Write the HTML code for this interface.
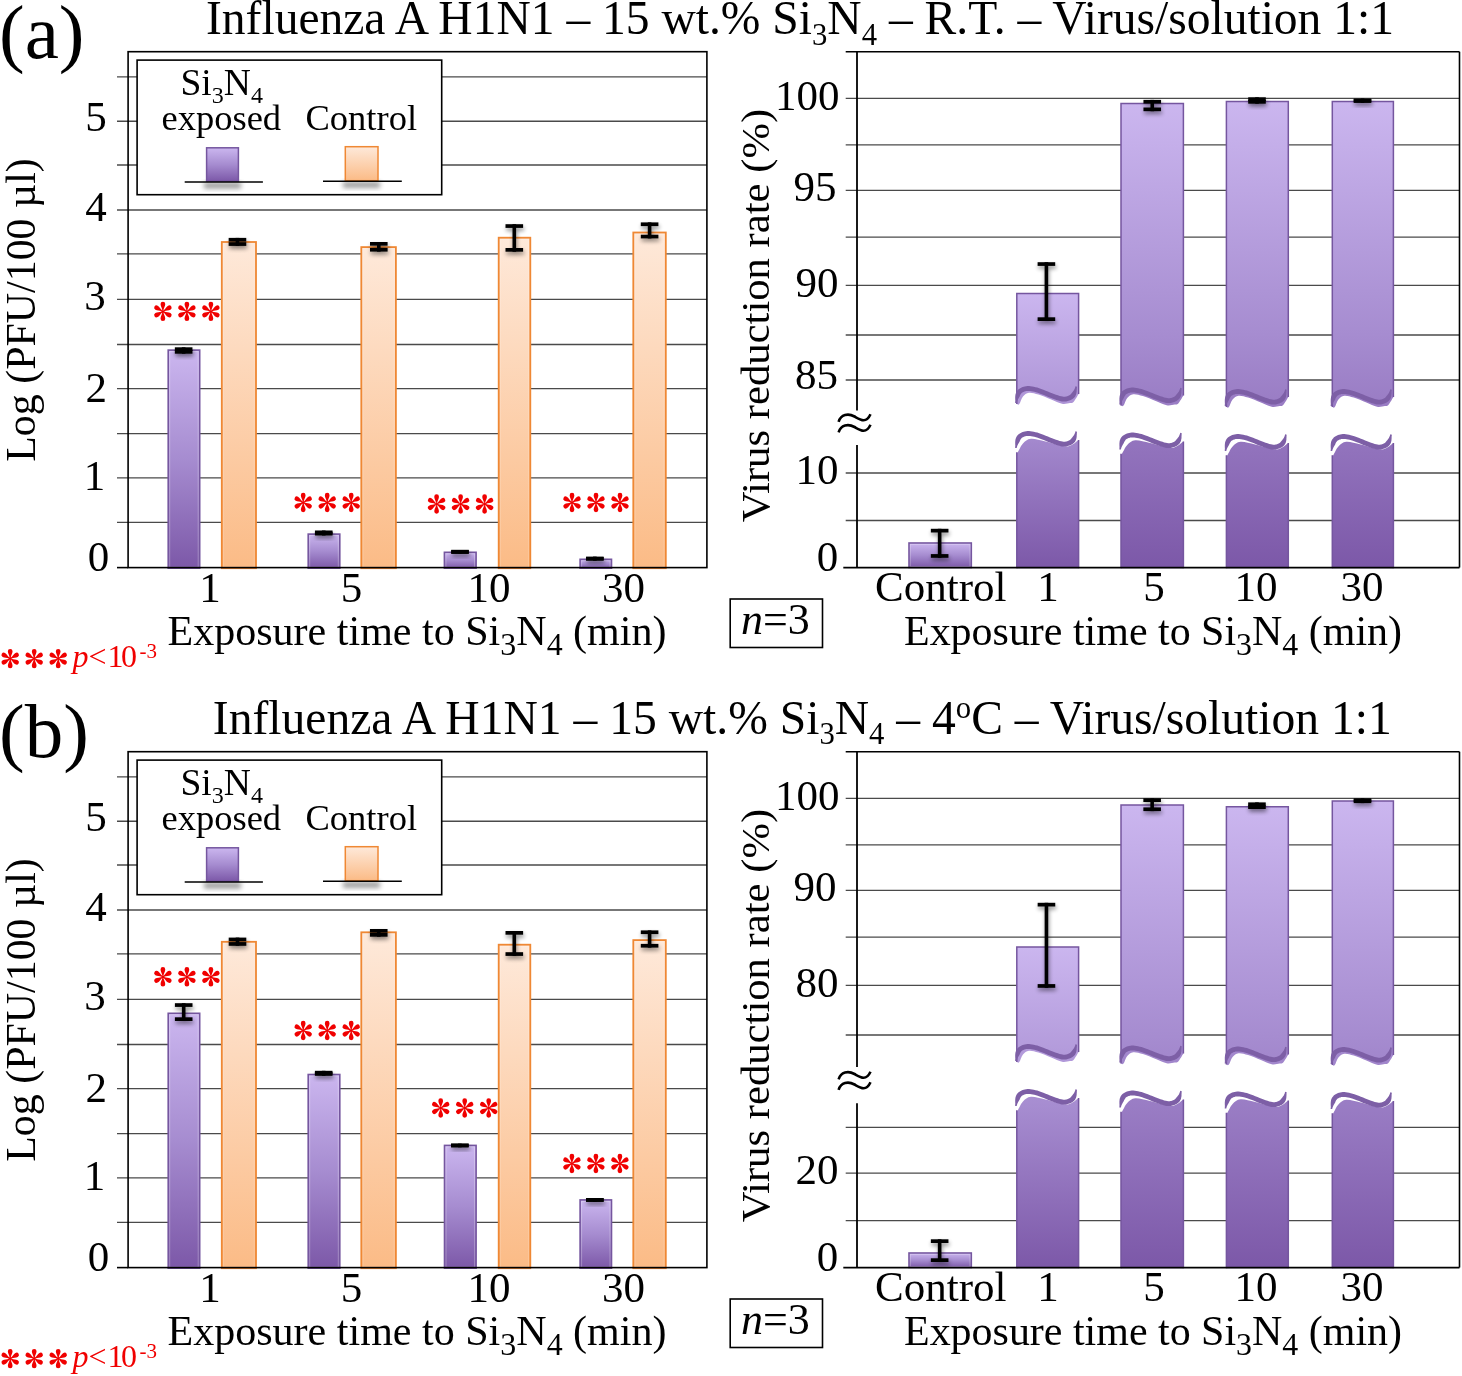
<!DOCTYPE html>
<html><head><meta charset="utf-8"><title>Figure</title>
<style>html,body{margin:0;padding:0;background:#fff;} svg{display:block;will-change:transform;} text{font-family:"Liberation Serif",serif;}</style>
</head><body>
<svg width="1462" height="1376" viewBox="0 0 1462 1376" font-family='"Liberation Serif", serif'>

<defs>
 <linearGradient id="gp" x1="0" y1="0" x2="0" y2="1">
  <stop offset="0" stop-color="#cbb6ef"/>
  <stop offset="0.5" stop-color="#a68cd0"/>
  <stop offset="1" stop-color="#7c58a8"/>
 </linearGradient>
 <linearGradient id="go" x1="0" y1="0" x2="0" y2="1">
  <stop offset="0" stop-color="#fee9da"/>
  <stop offset="1" stop-color="#fbbb86"/>
 </linearGradient>
 <g id="ast"><path d="M-0.55,-1.2 C-0.9,-3.4 -2.35,-5.2 -2.35,-7.35 A2.35,2.35 0 0 1 2.35,-7.35 C2.35,-5.2 0.9,-3.4 0.55,-1.2 Z" transform="rotate(0)"/><path d="M-0.55,-1.2 C-0.9,-3.4 -2.35,-5.2 -2.35,-7.35 A2.35,2.35 0 0 1 2.35,-7.35 C2.35,-5.2 0.9,-3.4 0.55,-1.2 Z" transform="rotate(60)"/><path d="M-0.55,-1.2 C-0.9,-3.4 -2.35,-5.2 -2.35,-7.35 A2.35,2.35 0 0 1 2.35,-7.35 C2.35,-5.2 0.9,-3.4 0.55,-1.2 Z" transform="rotate(120)"/><path d="M-0.55,-1.2 C-0.9,-3.4 -2.35,-5.2 -2.35,-7.35 A2.35,2.35 0 0 1 2.35,-7.35 C2.35,-5.2 0.9,-3.4 0.55,-1.2 Z" transform="rotate(180)"/><path d="M-0.55,-1.2 C-0.9,-3.4 -2.35,-5.2 -2.35,-7.35 A2.35,2.35 0 0 1 2.35,-7.35 C2.35,-5.2 0.9,-3.4 0.55,-1.2 Z" transform="rotate(240)"/><path d="M-0.55,-1.2 C-0.9,-3.4 -2.35,-5.2 -2.35,-7.35 A2.35,2.35 0 0 1 2.35,-7.35 C2.35,-5.2 0.9,-3.4 0.55,-1.2 Z" transform="rotate(300)"/><circle r="1.5"/></g>
 <filter id="esh" x="-50%" y="-50%" width="200%" height="200%"><feGaussianBlur stdDeviation="2.2"/></filter>
 <filter id="sh" x="-50%" y="-50%" width="200%" height="200%">
  <feGaussianBlur stdDeviation="2.5"/>
 </filter>
</defs>

<rect width="1462" height="1376" fill="#fff"/>
<text x="-1" y="58" font-size="77" text-anchor="start" fill="#000" >(a)</text>
<text x="206" y="34.2" font-size="48" textLength="1188" lengthAdjust="spacingAndGlyphs">Influenza A H1N1 – 15 wt.% Si<tspan font-size="31" dy="10.5">3</tspan><tspan dy="-10.5">N</tspan><tspan font-size="31" dy="10.5">4</tspan><tspan dy="-10.5"> – R.T. – Virus/solution 1:1</tspan></text>
<line x1="117" y1="76.9" x2="706.9" y2="76.9" stroke="#4a4a4a" stroke-width="1.3" />
<line x1="117" y1="121.25" x2="706.9" y2="121.25" stroke="#4a4a4a" stroke-width="1.3" />
<line x1="117" y1="165.0" x2="706.9" y2="165.0" stroke="#4a4a4a" stroke-width="1.3" />
<line x1="117" y1="210.0" x2="706.9" y2="210.0" stroke="#4a4a4a" stroke-width="1.3" />
<line x1="117" y1="253.9" x2="706.9" y2="253.9" stroke="#4a4a4a" stroke-width="1.3" />
<line x1="117" y1="299.4" x2="706.9" y2="299.4" stroke="#4a4a4a" stroke-width="1.3" />
<line x1="117" y1="344.5" x2="706.9" y2="344.5" stroke="#4a4a4a" stroke-width="1.3" />
<line x1="117" y1="388.7" x2="706.9" y2="388.7" stroke="#4a4a4a" stroke-width="1.3" />
<line x1="117" y1="433.7" x2="706.9" y2="433.7" stroke="#4a4a4a" stroke-width="1.3" />
<line x1="117" y1="477.8" x2="706.9" y2="477.8" stroke="#4a4a4a" stroke-width="1.3" />
<line x1="117" y1="522.4" x2="706.9" y2="522.4" stroke="#4a4a4a" stroke-width="1.3" />
<rect x="168.20" y="350.10" width="31.50" height="218.10" fill="url(#gp)" stroke="#75569f" stroke-width="1.6"/>
<rect x="169.70" y="351.60" width="28.50" height="215.70" fill="none" stroke="#fff" stroke-opacity="0.28" stroke-width="1"/>
<rect x="221.80" y="242.00" width="34.20" height="326.20" fill="url(#go)" stroke="#ef8834" stroke-width="1.8"/>
<rect x="223.60" y="243.80" width="30.60" height="323.50" fill="none" stroke="#fff" stroke-opacity="0.15" stroke-width="1"/>
<rect x="308.20" y="534.10" width="31.60" height="34.10" fill="url(#gp)" stroke="#75569f" stroke-width="1.6"/>
<rect x="309.70" y="535.60" width="28.60" height="31.70" fill="none" stroke="#fff" stroke-opacity="0.28" stroke-width="1"/>
<rect x="361.30" y="247.10" width="34.60" height="321.10" fill="url(#go)" stroke="#ef8834" stroke-width="1.8"/>
<rect x="363.10" y="248.90" width="31.00" height="318.40" fill="none" stroke="#fff" stroke-opacity="0.15" stroke-width="1"/>
<rect x="444.40" y="552.30" width="31.70" height="15.90" fill="url(#gp)" stroke="#75569f" stroke-width="1.6"/>
<rect x="445.90" y="553.80" width="28.70" height="13.50" fill="none" stroke="#fff" stroke-opacity="0.28" stroke-width="1"/>
<rect x="498.70" y="237.70" width="31.60" height="330.50" fill="url(#go)" stroke="#ef8834" stroke-width="1.8"/>
<rect x="500.50" y="239.50" width="28.00" height="327.80" fill="none" stroke="#fff" stroke-opacity="0.15" stroke-width="1"/>
<rect x="580.10" y="559.30" width="31.40" height="8.90" fill="url(#gp)" stroke="#75569f" stroke-width="1.6"/>
<rect x="581.60" y="560.80" width="28.40" height="6.50" fill="none" stroke="#fff" stroke-opacity="0.28" stroke-width="1"/>
<rect x="633.30" y="232.50" width="32.50" height="335.70" fill="url(#go)" stroke="#ef8834" stroke-width="1.8"/>
<rect x="635.10" y="234.30" width="28.90" height="333.00" fill="none" stroke="#fff" stroke-opacity="0.15" stroke-width="1"/>
<g fill="#000" opacity="0.45" filter="url(#esh)" transform="translate(0.8,2.8)"><rect x="181.85" y="347.30" width="3.6" height="6.40"/><rect x="174.85" y="347.30" width="17.6" height="3.7"/><rect x="174.85" y="350.00" width="17.6" height="3.7"/></g>
<g fill="#000"><rect x="181.85" y="347.30" width="3.6" height="6.40"/><rect x="174.85" y="347.30" width="17.6" height="3.7"/><rect x="174.85" y="350.00" width="17.6" height="3.7"/></g>
<g fill="#000" opacity="0.45" filter="url(#esh)" transform="translate(0.8,2.8)"><rect x="235.65" y="237.90" width="3.6" height="8.00"/><rect x="228.65" y="237.90" width="17.6" height="3.7"/><rect x="228.65" y="242.20" width="17.6" height="3.7"/></g>
<g fill="#000"><rect x="235.65" y="237.90" width="3.6" height="8.00"/><rect x="228.65" y="237.90" width="17.6" height="3.7"/><rect x="228.65" y="242.20" width="17.6" height="3.7"/></g>
<g fill="#f00000"><use href="#ast" x="162.90" y="311.40"/><use href="#ast" x="186.90" y="311.40"/><use href="#ast" x="210.90" y="311.40"/></g>
<g fill="#000" opacity="0.45" filter="url(#esh)" transform="translate(0.8,2.8)"><rect x="321.95" y="530.50" width="3.6" height="5.00"/><rect x="314.95" y="530.50" width="17.6" height="3.7"/><rect x="314.95" y="531.80" width="17.6" height="3.7"/></g>
<g fill="#000"><rect x="321.95" y="530.50" width="3.6" height="5.00"/><rect x="314.95" y="530.50" width="17.6" height="3.7"/><rect x="314.95" y="531.80" width="17.6" height="3.7"/></g>
<g fill="#000" opacity="0.45" filter="url(#esh)" transform="translate(0.8,2.8)"><rect x="377.00" y="242.00" width="3.6" height="9.60"/><rect x="370.00" y="242.00" width="17.6" height="3.7"/><rect x="370.00" y="247.90" width="17.6" height="3.7"/></g>
<g fill="#000"><rect x="377.00" y="242.00" width="3.6" height="9.60"/><rect x="370.00" y="242.00" width="17.6" height="3.7"/><rect x="370.00" y="247.90" width="17.6" height="3.7"/></g>
<g fill="#f00000"><use href="#ast" x="303.20" y="502.50"/><use href="#ast" x="327.20" y="502.50"/><use href="#ast" x="351.20" y="502.50"/></g>
<g fill="#000" opacity="0.45" filter="url(#esh)" transform="translate(0.8,2.8)"><rect x="458.20" y="550.20" width="3.6" height="3.30"/><rect x="451.20" y="550.20" width="17.6" height="3.7"/><rect x="451.20" y="549.80" width="17.6" height="3.7"/></g>
<g fill="#000"><rect x="458.20" y="550.20" width="3.6" height="3.30"/><rect x="451.20" y="550.20" width="17.6" height="3.7"/><rect x="451.20" y="549.80" width="17.6" height="3.7"/></g>
<g fill="#000" opacity="0.45" filter="url(#esh)" transform="translate(0.8,2.8)"><rect x="512.50" y="224.20" width="3.6" height="27.50"/><rect x="505.50" y="224.20" width="17.6" height="3.7"/><rect x="505.50" y="248.00" width="17.6" height="3.7"/></g>
<g fill="#000"><rect x="512.50" y="224.20" width="3.6" height="27.50"/><rect x="505.50" y="224.20" width="17.6" height="3.7"/><rect x="505.50" y="248.00" width="17.6" height="3.7"/></g>
<g fill="#f00000"><use href="#ast" x="436.60" y="504.00"/><use href="#ast" x="460.60" y="504.00"/><use href="#ast" x="484.60" y="504.00"/></g>
<g fill="#000" opacity="0.45" filter="url(#esh)" transform="translate(0.8,2.8)"><rect x="593.05" y="556.60" width="3.6" height="4.10"/><rect x="586.05" y="556.60" width="17.6" height="3.7"/><rect x="586.05" y="557.00" width="17.6" height="3.7"/></g>
<g fill="#000"><rect x="593.05" y="556.60" width="3.6" height="4.10"/><rect x="586.05" y="556.60" width="17.6" height="3.7"/><rect x="586.05" y="557.00" width="17.6" height="3.7"/></g>
<g fill="#000" opacity="0.45" filter="url(#esh)" transform="translate(0.8,2.8)"><rect x="647.80" y="222.40" width="3.6" height="16.00"/><rect x="640.80" y="222.40" width="17.6" height="3.7"/><rect x="640.80" y="234.70" width="17.6" height="3.7"/></g>
<g fill="#000"><rect x="647.80" y="222.40" width="3.6" height="16.00"/><rect x="640.80" y="222.40" width="17.6" height="3.7"/><rect x="640.80" y="234.70" width="17.6" height="3.7"/></g>
<g fill="#f00000"><use href="#ast" x="572.00" y="502.50"/><use href="#ast" x="596.00" y="502.50"/><use href="#ast" x="620.00" y="502.50"/></g>
<rect x="128.1" y="51.7" width="578.8" height="515.9" fill="none" stroke="#000" stroke-width="1.6"/>
<line x1="117" y1="567.6" x2="128.1" y2="567.6" stroke="#000" stroke-width="1.6" />
<rect x="137.1" y="60.1" width="304.59999999999997" height="134.6" fill="#fff" stroke="#000" stroke-width="1.6"/>
<text x="180.5" y="94.9" font-size="37.5">Si<tspan font-size="24.0" dy="8.2">3</tspan><tspan dy="-8.2">N</tspan><tspan font-size="24.0" dy="8.2">4</tspan></text>
<text x="161.5" y="129.9" font-size="36.5" text-anchor="start" fill="#000" >exposed</text>
<text x="305.5" y="129.9" font-size="36.5" text-anchor="start" fill="#000" >Control</text>
<rect x="204" y="182.5" width="37" height="6" fill="#000" opacity="0.4" filter="url(#sh)"/>
<rect x="343" y="181.8" width="37" height="6" fill="#000" opacity="0.4" filter="url(#sh)"/>
<rect x="206.6" y="147.8" width="31.8" height="33.4" fill="url(#gp)" stroke="#75569f" stroke-width="1.5"/>
<rect x="345.3" y="146.7" width="32.7" height="34" fill="url(#go)" stroke="#ef8834" stroke-width="1.5"/>
<line x1="184.7" y1="182" x2="262.9" y2="182" stroke="#000" stroke-width="1.6" />
<line x1="323" y1="181.3" x2="401.8" y2="181.3" stroke="#000" stroke-width="1.6" />
<text x="106.8" y="130.8" font-size="43" text-anchor="end" fill="#000" >5</text>
<text x="106.7" y="220.9" font-size="43" text-anchor="end" fill="#000" >4</text>
<text x="105.8" y="310.2" font-size="43" text-anchor="end" fill="#000" >3</text>
<text x="107.0" y="402" font-size="43" text-anchor="end" fill="#000" >2</text>
<text x="105.3" y="490" font-size="43" text-anchor="end" fill="#000" >1</text>
<text x="109.2" y="571.2" font-size="43" text-anchor="end" fill="#000" >0</text>
<text transform="translate(34.5,310) rotate(-90)" font-size="42" text-anchor="middle" textLength="303.5" lengthAdjust="spacingAndGlyphs">Log (PFU/100 µl)</text>
<text x="210" y="602.4" font-size="43" text-anchor="middle" fill="#000" >1</text>
<text x="351.6" y="602.4" font-size="43" text-anchor="middle" fill="#000" >5</text>
<text x="489" y="602.4" font-size="43" text-anchor="middle" fill="#000" >10</text>
<text x="623.6" y="602.4" font-size="43" text-anchor="middle" fill="#000" >30</text>
<text x="167.5" y="644.6" font-size="42" textLength="499" lengthAdjust="spacingAndGlyphs">Exposure time to Si<tspan font-size="31.9" dy="10.0">3</tspan><tspan dy="-10.0">N</tspan><tspan font-size="31.9" dy="10.0">4</tspan><tspan dy="-10.0"> (min)</tspan></text>
<line x1="845.7" y1="98.4" x2="1459.5" y2="98.4" stroke="#4a4a4a" stroke-width="1.3" />
<line x1="845.7" y1="144.8" x2="1459.5" y2="144.8" stroke="#4a4a4a" stroke-width="1.3" />
<line x1="845.7" y1="190.4" x2="1459.5" y2="190.4" stroke="#4a4a4a" stroke-width="1.3" />
<line x1="845.7" y1="237.2" x2="1459.5" y2="237.2" stroke="#4a4a4a" stroke-width="1.3" />
<line x1="845.7" y1="285.4" x2="1459.5" y2="285.4" stroke="#4a4a4a" stroke-width="1.3" />
<line x1="845.7" y1="335.0" x2="1459.5" y2="335.0" stroke="#4a4a4a" stroke-width="1.3" />
<line x1="845.7" y1="380.0" x2="1459.5" y2="380.0" stroke="#4a4a4a" stroke-width="1.3" />
<line x1="845.7" y1="473.0" x2="1459.5" y2="473.0" stroke="#4a4a4a" stroke-width="1.3" />
<line x1="845.7" y1="520.5" x2="1459.5" y2="520.5" stroke="#4a4a4a" stroke-width="1.3" />
<rect x="909.00" y="543.00" width="62.30" height="24.50" fill="url(#gp)" stroke="#75569f" stroke-width="1.6"/>
<rect x="910.30" y="544.30" width="59.70" height="22.30" fill="none" stroke="#fff" stroke-opacity="0.28" stroke-width="1"/>
<linearGradient id="b1" gradientUnits="userSpaceOnUse" x1="0" y1="293.40000000000003" x2="0" y2="568"><stop offset="0" stop-color="#cbb6ef"/><stop offset="0.5" stop-color="#a68cd0"/><stop offset="1" stop-color="#7c58a8"/></linearGradient>
<path d="M1016.80,293.40 L1078.60,293.40 L1078.60,394.00 C1077.76,395.32 1074.97,400.40 1073.53,401.90 C1072.09,403.40 1071.86,402.68 1069.95,403.00 C1068.03,403.32 1065.16,404.38 1062.04,403.80 C1058.92,403.22 1055.16,401.05 1051.22,399.50 C1047.29,397.95 1042.15,395.63 1038.43,394.50 C1034.71,393.37 1031.49,392.37 1028.91,392.70 C1026.34,393.03 1024.59,394.60 1022.98,396.50 C1021.37,398.40 1020.30,402.83 1019.27,404.10 C1018.24,405.37 1017.21,404.10 1016.80,404.10 Z" fill="url(#b1)" stroke="none"/>
<path d="M1016.80,404.10 L1016.80,293.40 L1078.60,293.40 L1078.60,394.00" fill="none" stroke="#75569f" stroke-width="1.5"/>
<path d="M1016.7,403.1 1016.8,402.5 1017.0,401.7 1017.3,400.8 1017.8,399.8 1018.3,398.8 1018.8,398.0 1019.2,397.2 1019.7,396.4 1020.0,395.6 1020.4,394.9 1020.6,394.3 1020.9,393.9 1021.3,393.4 1021.6,393.1 1022.0,392.7 1022.4,392.5 1022.8,392.2 1023.5,391.9 1024.2,391.6 1025.0,391.4 1025.9,391.1 1026.8,391.0 1027.7,390.9 1028.8,390.9 1030.0,391.0 1031.3,391.2 1032.8,391.5 1034.3,391.8 1036.0,392.3 1037.7,392.8 1039.6,393.4 1041.6,394.2 1043.8,395.1 1046.1,396.1 1048.3,397.0 1050.4,397.8 1052.4,398.5 1054.4,399.2 1056.4,399.9 1058.2,400.5 1060.0,401.0 1061.6,401.4 1063.0,401.6 1064.2,401.6 1065.3,401.6 1066.2,401.4 1067.0,401.2 1067.7,401.0 1068.5,400.8 1069.4,400.5 1070.3,400.2 1071.1,399.8 1071.8,399.4 1072.5,399.0 1073.2,398.5 1073.8,398.0 1074.3,397.5 1074.8,396.9 1075.2,396.4 1075.5,395.8 1075.8,395.2 1076.1,394.5 1076.3,393.8 1076.5,393.0 1076.6,392.3 1076.7,391.5 1076.7,390.6 1076.8,389.7 1076.8,388.7 1076.9,387.9 1076.9,387.2 1077.0,386.7 1075.5,386.3 1075.3,386.8 1075.2,387.5 1074.9,388.3 1074.5,389.1 1074.1,389.9 1073.7,390.5 1073.3,391.0 1072.9,391.5 1072.6,392.0 1072.2,392.4 1071.9,392.8 1071.6,393.2 1071.3,393.6 1071.0,394.0 1070.7,394.3 1070.5,394.5 1070.2,394.8 1069.9,395.0 1069.4,395.3 1068.9,395.5 1068.4,395.8 1067.8,396.0 1067.2,396.2 1066.5,396.4 1065.8,396.5 1065.2,396.7 1064.7,396.8 1064.2,396.8 1063.5,396.8 1062.5,396.6 1061.2,396.3 1059.6,395.9 1057.9,395.3 1056.0,394.7 1054.0,394.0 1052.1,393.2 1050.0,392.5 1047.9,391.6 1045.7,390.7 1043.4,389.8 1041.2,388.9 1039.2,388.2 1037.3,387.6 1035.5,387.2 1033.8,386.8 1032.1,386.5 1030.5,386.2 1029.0,386.1 1027.5,386.1 1026.1,386.2 1024.8,386.5 1023.7,386.8 1022.6,387.1 1021.6,387.5 1020.7,387.9 1019.8,388.4 1019.0,389.0 1018.3,389.6 1017.6,390.3 1017.0,391.1 1016.4,392.1 1016.0,393.0 1015.6,394.0 1015.4,395.0 1015.3,396.0 1015.2,397.0 1015.2,398.1 1015.2,399.2 1015.3,400.4 1015.2,401.4 1015.2,402.3 1015.1,402.9Z" fill="#7d5fa6"/>
<path d="M1016.80,568.20 L1016.80,452.20 C1016.96,452.20 1016.76,453.65 1017.79,452.20 C1018.82,450.75 1020.80,445.73 1022.98,443.50 C1025.16,441.27 1027.13,439.13 1030.89,438.80 C1034.65,438.47 1039.85,440.25 1045.54,441.50 C1051.22,442.75 1060.52,445.80 1065.00,446.30 C1069.48,446.80 1070.15,445.53 1072.42,444.50 C1074.69,443.47 1077.57,440.83 1078.60,440.10 L1078.60,568.20 Z" fill="url(#b1)" stroke="none"/>
<path d="M1016.80,452.20 L1016.80,568.20 M1078.60,440.10 L1078.60,568.20" fill="none" stroke="#75569f" stroke-width="1.5"/>
<path d="M1016.7,448.1 1016.8,447.5 1017.0,446.7 1017.3,445.8 1017.8,444.8 1018.3,443.8 1018.8,443.0 1019.2,442.2 1019.7,441.4 1020.0,440.6 1020.4,439.9 1020.6,439.3 1020.9,438.9 1021.3,438.4 1021.6,438.1 1022.0,437.7 1022.4,437.5 1022.8,437.2 1023.5,436.9 1024.2,436.6 1025.0,436.4 1025.9,436.1 1026.8,436.0 1027.7,435.9 1028.8,435.9 1030.0,436.0 1031.3,436.2 1032.8,436.5 1034.3,436.8 1036.0,437.3 1037.7,437.8 1039.6,438.4 1041.6,439.2 1043.8,440.1 1046.1,441.1 1048.3,442.0 1050.4,442.8 1052.4,443.5 1054.4,444.2 1056.4,444.9 1058.2,445.5 1060.0,446.0 1061.6,446.4 1063.0,446.6 1064.2,446.6 1065.3,446.6 1066.2,446.4 1067.0,446.2 1067.7,446.0 1068.5,445.8 1069.4,445.5 1070.3,445.2 1071.1,444.8 1071.8,444.4 1072.5,444.0 1073.2,443.5 1073.8,443.0 1074.3,442.5 1074.8,441.9 1075.2,441.4 1075.5,440.8 1075.8,440.2 1076.1,439.5 1076.3,438.8 1076.5,438.0 1076.6,437.3 1076.7,436.5 1076.7,435.6 1076.8,434.7 1076.8,433.7 1076.9,432.9 1076.9,432.2 1077.0,431.7 1075.5,431.3 1075.3,431.8 1075.2,432.5 1074.9,433.3 1074.5,434.1 1074.1,434.9 1073.7,435.5 1073.3,436.0 1072.9,436.5 1072.6,437.0 1072.2,437.4 1071.9,437.8 1071.6,438.2 1071.3,438.6 1071.0,439.0 1070.7,439.3 1070.5,439.5 1070.2,439.8 1069.9,440.0 1069.4,440.3 1068.9,440.5 1068.4,440.8 1067.8,441.0 1067.2,441.2 1066.5,441.4 1065.8,441.5 1065.2,441.7 1064.7,441.8 1064.2,441.8 1063.5,441.8 1062.5,441.6 1061.2,441.3 1059.6,440.9 1057.9,440.3 1056.0,439.7 1054.0,439.0 1052.1,438.2 1050.0,437.5 1047.9,436.6 1045.7,435.7 1043.4,434.8 1041.2,433.9 1039.2,433.2 1037.3,432.6 1035.5,432.2 1033.8,431.8 1032.1,431.5 1030.5,431.2 1029.0,431.1 1027.5,431.1 1026.1,431.2 1024.8,431.5 1023.7,431.8 1022.6,432.1 1021.6,432.5 1020.7,432.9 1019.8,433.4 1019.0,434.0 1018.3,434.6 1017.6,435.3 1017.0,436.1 1016.4,437.1 1016.0,438.0 1015.6,439.0 1015.4,440.0 1015.3,441.0 1015.2,442.0 1015.2,443.1 1015.2,444.2 1015.3,445.4 1015.2,446.4 1015.2,447.3 1015.1,447.9Z" fill="#7d5fa6"/>
<linearGradient id="b2" gradientUnits="userSpaceOnUse" x1="0" y1="103.6" x2="0" y2="568"><stop offset="0" stop-color="#cbb6ef"/><stop offset="0.5" stop-color="#a68cd0"/><stop offset="1" stop-color="#7c58a8"/></linearGradient>
<path d="M1121.00,103.60 L1183.40,103.60 L1183.40,395.50 C1182.55,396.82 1179.74,401.90 1178.28,403.40 C1176.83,404.90 1176.60,404.18 1174.66,404.50 C1172.73,404.82 1169.83,405.88 1166.68,405.30 C1163.53,404.72 1159.73,402.55 1155.76,401.00 C1151.78,399.45 1146.59,397.13 1142.84,396.00 C1139.09,394.87 1135.83,393.87 1133.23,394.20 C1130.63,394.53 1128.86,396.10 1127.24,398.00 C1125.62,399.90 1124.54,404.33 1123.50,405.60 C1122.46,406.87 1121.42,405.60 1121.00,405.60 Z" fill="url(#b2)" stroke="none"/>
<path d="M1121.00,405.60 L1121.00,103.60 L1183.40,103.60 L1183.40,395.50" fill="none" stroke="#75569f" stroke-width="1.5"/>
<path d="M1120.9,404.6 1121.0,404.0 1121.2,403.2 1121.5,402.3 1122.0,401.3 1122.5,400.3 1122.9,399.5 1123.4,398.7 1123.8,397.9 1124.2,397.1 1124.6,396.5 1124.8,395.9 1125.2,395.4 1125.5,394.9 1125.8,394.6 1126.2,394.3 1126.6,394.0 1127.1,393.7 1127.7,393.4 1128.5,393.1 1129.3,392.9 1130.1,392.6 1131.1,392.5 1132.0,392.4 1133.1,392.4 1134.3,392.5 1135.7,392.7 1137.1,393.0 1138.7,393.3 1140.4,393.8 1142.1,394.3 1144.0,394.9 1146.1,395.7 1148.3,396.6 1150.6,397.6 1152.8,398.5 1154.9,399.3 1157.0,400.0 1159.0,400.7 1160.9,401.4 1162.8,402.0 1164.6,402.5 1166.2,402.9 1167.6,403.1 1168.9,403.1 1170.0,403.1 1170.9,402.9 1171.6,402.7 1172.4,402.5 1173.2,402.3 1174.1,402.0 1175.0,401.7 1175.8,401.3 1176.5,400.9 1177.2,400.5 1177.9,400.0 1178.5,399.5 1179.0,399.0 1179.5,398.4 1179.9,397.9 1180.2,397.3 1180.6,396.7 1180.9,396.0 1181.1,395.3 1181.2,394.5 1181.4,393.8 1181.5,393.0 1181.5,392.1 1181.5,391.2 1181.6,390.2 1181.6,389.4 1181.7,388.7 1181.8,388.2 1180.2,387.8 1180.1,388.3 1179.9,389.0 1179.6,389.8 1179.3,390.6 1178.9,391.4 1178.5,392.0 1178.1,392.5 1177.7,393.0 1177.3,393.5 1177.0,393.9 1176.6,394.3 1176.3,394.7 1176.0,395.1 1175.7,395.4 1175.5,395.7 1175.2,396.0 1174.9,396.2 1174.6,396.5 1174.2,396.8 1173.7,397.0 1173.1,397.3 1172.5,397.5 1171.9,397.7 1171.2,397.9 1170.5,398.0 1169.9,398.2 1169.4,398.3 1168.8,398.3 1168.1,398.3 1167.1,398.1 1165.8,397.8 1164.2,397.4 1162.5,396.8 1160.5,396.2 1158.6,395.5 1156.6,394.7 1154.6,394.0 1152.4,393.1 1150.1,392.2 1147.9,391.3 1145.6,390.4 1143.6,389.7 1141.7,389.1 1139.9,388.7 1138.1,388.3 1136.5,388.0 1134.9,387.7 1133.3,387.6 1131.8,387.6 1130.4,387.7 1129.1,388.0 1128.0,388.3 1126.9,388.6 1125.9,389.0 1124.9,389.4 1124.1,389.9 1123.2,390.5 1122.5,391.1 1121.8,391.8 1121.2,392.6 1120.6,393.5 1120.2,394.5 1119.8,395.5 1119.6,396.5 1119.5,397.5 1119.4,398.5 1119.4,399.6 1119.4,400.7 1119.5,401.9 1119.4,402.9 1119.4,403.8 1119.3,404.4Z" fill="#7d5fa6"/>
<path d="M1121.00,568.20 L1121.00,453.70 C1121.17,453.70 1120.96,455.15 1122.00,453.70 C1123.04,452.25 1125.04,447.23 1127.24,445.00 C1129.44,442.77 1131.43,440.63 1135.23,440.30 C1139.02,439.97 1144.28,441.75 1150.02,443.00 C1155.76,444.25 1165.15,447.30 1169.67,447.80 C1174.20,448.30 1174.87,447.03 1177.16,446.00 C1179.45,444.97 1182.36,442.33 1183.40,441.60 L1183.40,568.20 Z" fill="url(#b2)" stroke="none"/>
<path d="M1121.00,453.70 L1121.00,568.20 M1183.40,441.60 L1183.40,568.20" fill="none" stroke="#75569f" stroke-width="1.5"/>
<path d="M1120.9,449.6 1121.0,449.0 1121.2,448.2 1121.5,447.3 1122.0,446.3 1122.5,445.3 1122.9,444.5 1123.4,443.7 1123.8,442.9 1124.2,442.1 1124.6,441.5 1124.8,440.9 1125.2,440.4 1125.5,439.9 1125.8,439.6 1126.2,439.3 1126.6,439.0 1127.1,438.7 1127.7,438.4 1128.5,438.1 1129.3,437.9 1130.1,437.6 1131.1,437.5 1132.0,437.4 1133.1,437.4 1134.3,437.5 1135.7,437.7 1137.1,438.0 1138.7,438.3 1140.4,438.8 1142.1,439.3 1144.0,439.9 1146.1,440.7 1148.3,441.6 1150.6,442.6 1152.8,443.5 1154.9,444.3 1157.0,445.0 1159.0,445.7 1160.9,446.4 1162.8,447.0 1164.6,447.5 1166.2,447.9 1167.6,448.1 1168.9,448.1 1170.0,448.1 1170.9,447.9 1171.6,447.7 1172.4,447.5 1173.2,447.3 1174.1,447.0 1175.0,446.7 1175.8,446.3 1176.5,445.9 1177.2,445.5 1177.9,445.0 1178.5,444.5 1179.0,444.0 1179.5,443.4 1179.9,442.9 1180.2,442.3 1180.6,441.7 1180.9,441.0 1181.1,440.3 1181.2,439.5 1181.4,438.8 1181.5,438.0 1181.5,437.1 1181.5,436.2 1181.6,435.2 1181.6,434.4 1181.7,433.7 1181.8,433.2 1180.2,432.8 1180.1,433.3 1179.9,434.0 1179.6,434.8 1179.3,435.6 1178.9,436.4 1178.5,437.0 1178.1,437.5 1177.7,438.0 1177.3,438.5 1177.0,438.9 1176.6,439.3 1176.3,439.7 1176.0,440.1 1175.7,440.4 1175.5,440.7 1175.2,441.0 1174.9,441.2 1174.6,441.5 1174.2,441.8 1173.7,442.0 1173.1,442.3 1172.5,442.5 1171.9,442.7 1171.2,442.9 1170.5,443.0 1169.9,443.2 1169.4,443.3 1168.8,443.3 1168.1,443.3 1167.1,443.1 1165.8,442.8 1164.2,442.4 1162.5,441.8 1160.5,441.2 1158.6,440.5 1156.6,439.7 1154.6,439.0 1152.4,438.1 1150.1,437.2 1147.9,436.3 1145.6,435.4 1143.6,434.7 1141.7,434.1 1139.9,433.7 1138.1,433.3 1136.5,433.0 1134.9,432.7 1133.3,432.6 1131.8,432.6 1130.4,432.7 1129.1,433.0 1128.0,433.3 1126.9,433.6 1125.9,434.0 1124.9,434.4 1124.1,434.9 1123.2,435.5 1122.5,436.1 1121.8,436.8 1121.2,437.6 1120.6,438.5 1120.2,439.5 1119.8,440.5 1119.6,441.5 1119.5,442.5 1119.4,443.5 1119.4,444.6 1119.4,445.7 1119.5,446.9 1119.4,447.9 1119.4,448.8 1119.3,449.4Z" fill="#7d5fa6"/>
<linearGradient id="b3" gradientUnits="userSpaceOnUse" x1="0" y1="101.39999999999999" x2="0" y2="568"><stop offset="0" stop-color="#cbb6ef"/><stop offset="0.5" stop-color="#a68cd0"/><stop offset="1" stop-color="#7c58a8"/></linearGradient>
<path d="M1226.40,101.40 L1288.30,101.40 L1288.30,397.00 C1287.45,398.32 1284.67,403.40 1283.22,404.90 C1281.78,406.40 1281.55,405.68 1279.63,406.00 C1277.72,406.32 1274.84,407.38 1271.71,406.80 C1268.58,406.22 1264.82,404.05 1260.88,402.50 C1256.94,400.95 1251.79,398.63 1248.07,397.50 C1244.34,396.37 1241.11,395.37 1238.53,395.70 C1235.95,396.03 1234.20,397.60 1232.59,399.50 C1230.98,401.40 1229.91,405.83 1228.88,407.10 C1227.84,408.37 1226.81,407.10 1226.40,407.10 Z" fill="url(#b3)" stroke="none"/>
<path d="M1226.40,407.10 L1226.40,101.40 L1288.30,101.40 L1288.30,397.00" fill="none" stroke="#75569f" stroke-width="1.5"/>
<path d="M1226.3,406.1 1226.4,405.5 1226.6,404.7 1226.9,403.8 1227.4,402.8 1227.9,401.8 1228.4,401.0 1228.8,400.2 1229.2,399.4 1229.6,398.6 1230.0,397.9 1230.2,397.4 1230.5,396.9 1230.9,396.4 1231.2,396.1 1231.6,395.7 1232.0,395.5 1232.5,395.2 1233.1,394.9 1233.8,394.6 1234.6,394.4 1235.5,394.1 1236.4,394.0 1237.4,393.9 1238.4,393.9 1239.6,394.0 1241.0,394.2 1242.4,394.5 1243.9,394.8 1245.6,395.3 1247.3,395.8 1249.2,396.4 1251.3,397.2 1253.5,398.1 1255.7,399.1 1257.9,400.0 1260.0,400.8 1262.1,401.5 1264.1,402.2 1266.0,402.9 1267.9,403.5 1269.6,404.0 1271.2,404.4 1272.6,404.6 1273.9,404.6 1275.0,404.6 1275.9,404.4 1276.6,404.2 1277.4,404.0 1278.2,403.8 1279.1,403.5 1279.9,403.2 1280.7,402.8 1281.5,402.4 1282.2,402.0 1282.9,401.5 1283.5,401.0 1284.0,400.5 1284.4,399.9 1284.8,399.4 1285.2,398.8 1285.5,398.2 1285.8,397.5 1286.0,396.8 1286.2,396.0 1286.3,395.3 1286.4,394.5 1286.4,393.6 1286.5,392.7 1286.5,391.7 1286.5,390.9 1286.6,390.2 1286.7,389.7 1285.2,389.3 1285.0,389.8 1284.8,390.5 1284.6,391.3 1284.2,392.1 1283.8,392.9 1283.4,393.5 1283.0,394.0 1282.6,394.5 1282.3,395.0 1281.9,395.4 1281.6,395.8 1281.3,396.2 1280.9,396.6 1280.7,397.0 1280.4,397.3 1280.2,397.5 1279.9,397.8 1279.6,398.0 1279.1,398.3 1278.6,398.5 1278.1,398.8 1277.5,399.0 1276.9,399.2 1276.2,399.4 1275.5,399.5 1274.9,399.7 1274.4,399.8 1273.9,399.8 1273.2,399.8 1272.2,399.6 1270.9,399.3 1269.3,398.9 1267.5,398.3 1265.6,397.7 1263.7,397.0 1261.7,396.2 1259.7,395.5 1257.5,394.6 1255.3,393.7 1253.1,392.8 1250.9,391.9 1248.8,391.2 1246.9,390.6 1245.1,390.2 1243.4,389.8 1241.7,389.5 1240.2,389.2 1238.6,389.1 1237.2,389.1 1235.8,389.2 1234.5,389.5 1233.3,389.8 1232.2,390.1 1231.2,390.5 1230.3,390.9 1229.4,391.4 1228.6,392.0 1227.9,392.6 1227.2,393.3 1226.6,394.1 1226.0,395.0 1225.6,396.0 1225.2,397.0 1225.0,398.0 1224.9,399.0 1224.8,400.0 1224.8,401.1 1224.8,402.2 1224.9,403.4 1224.8,404.4 1224.8,405.3 1224.7,405.9Z" fill="#7d5fa6"/>
<path d="M1226.40,568.20 L1226.40,455.20 C1226.57,455.20 1226.36,456.65 1227.39,455.20 C1228.42,453.75 1230.40,448.73 1232.59,446.50 C1234.78,444.27 1236.75,442.13 1240.51,441.80 C1244.28,441.47 1249.49,443.25 1255.18,444.50 C1260.88,445.75 1270.19,448.80 1274.68,449.30 C1279.17,449.80 1279.84,448.53 1282.11,447.50 C1284.38,446.47 1287.27,443.83 1288.30,443.10 L1288.30,568.20 Z" fill="url(#b3)" stroke="none"/>
<path d="M1226.40,455.20 L1226.40,568.20 M1288.30,443.10 L1288.30,568.20" fill="none" stroke="#75569f" stroke-width="1.5"/>
<path d="M1226.3,451.1 1226.4,450.5 1226.6,449.7 1226.9,448.8 1227.4,447.8 1227.9,446.8 1228.4,446.0 1228.8,445.2 1229.2,444.4 1229.6,443.6 1230.0,442.9 1230.2,442.4 1230.5,441.9 1230.9,441.4 1231.2,441.1 1231.6,440.7 1232.0,440.5 1232.5,440.2 1233.1,439.9 1233.8,439.6 1234.6,439.4 1235.5,439.1 1236.4,439.0 1237.4,438.9 1238.4,438.9 1239.6,439.0 1241.0,439.2 1242.4,439.5 1243.9,439.8 1245.6,440.3 1247.3,440.8 1249.2,441.4 1251.3,442.2 1253.5,443.1 1255.7,444.1 1257.9,445.0 1260.0,445.8 1262.1,446.5 1264.1,447.2 1266.0,447.9 1267.9,448.5 1269.6,449.0 1271.2,449.4 1272.6,449.6 1273.9,449.6 1275.0,449.6 1275.9,449.4 1276.6,449.2 1277.4,449.0 1278.2,448.8 1279.1,448.5 1279.9,448.2 1280.7,447.8 1281.5,447.4 1282.2,447.0 1282.9,446.5 1283.5,446.0 1284.0,445.5 1284.4,444.9 1284.8,444.4 1285.2,443.8 1285.5,443.2 1285.8,442.5 1286.0,441.8 1286.2,441.0 1286.3,440.3 1286.4,439.5 1286.4,438.6 1286.5,437.7 1286.5,436.7 1286.5,435.9 1286.6,435.2 1286.7,434.7 1285.2,434.3 1285.0,434.8 1284.8,435.5 1284.6,436.3 1284.2,437.1 1283.8,437.9 1283.4,438.5 1283.0,439.0 1282.6,439.5 1282.3,440.0 1281.9,440.4 1281.6,440.8 1281.3,441.2 1280.9,441.6 1280.7,442.0 1280.4,442.3 1280.2,442.5 1279.9,442.8 1279.6,443.0 1279.1,443.3 1278.6,443.5 1278.1,443.8 1277.5,444.0 1276.9,444.2 1276.2,444.4 1275.5,444.5 1274.9,444.7 1274.4,444.8 1273.9,444.8 1273.2,444.8 1272.2,444.6 1270.9,444.3 1269.3,443.9 1267.5,443.3 1265.6,442.7 1263.7,442.0 1261.7,441.2 1259.7,440.5 1257.5,439.6 1255.3,438.7 1253.1,437.8 1250.9,436.9 1248.8,436.2 1246.9,435.6 1245.1,435.2 1243.4,434.8 1241.7,434.5 1240.2,434.2 1238.6,434.1 1237.2,434.1 1235.8,434.2 1234.5,434.5 1233.3,434.8 1232.2,435.1 1231.2,435.5 1230.3,435.9 1229.4,436.4 1228.6,437.0 1227.9,437.6 1227.2,438.3 1226.6,439.1 1226.0,440.0 1225.6,441.0 1225.2,442.0 1225.0,443.0 1224.9,444.0 1224.8,445.0 1224.8,446.1 1224.8,447.2 1224.9,448.4 1224.8,449.4 1224.8,450.3 1224.7,450.9Z" fill="#7d5fa6"/>
<linearGradient id="b4" gradientUnits="userSpaceOnUse" x1="0" y1="101.39999999999999" x2="0" y2="568"><stop offset="0" stop-color="#cbb6ef"/><stop offset="0.5" stop-color="#a68cd0"/><stop offset="1" stop-color="#7c58a8"/></linearGradient>
<path d="M1332.30,101.40 L1393.40,101.40 L1393.40,397.00 C1392.56,398.32 1389.82,403.40 1388.39,404.90 C1386.96,406.40 1386.74,405.68 1384.85,406.00 C1382.95,406.32 1380.11,407.38 1377.03,406.80 C1373.94,406.22 1370.22,404.05 1366.33,402.50 C1362.44,400.95 1357.36,398.63 1353.69,397.50 C1350.01,396.37 1346.82,395.37 1344.28,395.70 C1341.73,396.03 1340.00,397.60 1338.41,399.50 C1336.82,401.40 1335.76,405.83 1334.74,407.10 C1333.73,408.37 1332.71,407.10 1332.30,407.10 Z" fill="url(#b4)" stroke="none"/>
<path d="M1332.30,407.10 L1332.30,101.40 L1393.40,101.40 L1393.40,397.00" fill="none" stroke="#75569f" stroke-width="1.5"/>
<path d="M1332.2,406.1 1332.3,405.5 1332.5,404.7 1332.9,403.8 1333.3,402.8 1333.8,401.8 1334.3,401.0 1334.7,400.2 1335.2,399.4 1335.5,398.6 1335.8,397.9 1336.1,397.3 1336.4,396.9 1336.8,396.4 1337.1,396.0 1337.4,395.7 1337.8,395.5 1338.3,395.2 1338.9,394.9 1339.6,394.6 1340.4,394.4 1341.3,394.1 1342.2,394.0 1343.1,393.9 1344.2,393.9 1345.4,394.0 1346.7,394.2 1348.1,394.5 1349.6,394.8 1351.2,395.3 1352.9,395.8 1354.8,396.4 1356.8,397.2 1359.0,398.1 1361.2,399.1 1363.4,399.9 1365.5,400.7 1367.5,401.5 1369.5,402.2 1371.4,402.9 1373.2,403.5 1375.0,404.0 1376.5,404.4 1377.9,404.6 1379.2,404.6 1380.2,404.6 1381.2,404.4 1381.9,404.2 1382.6,404.0 1383.5,403.8 1384.3,403.5 1385.2,403.2 1386.0,402.8 1386.7,402.4 1387.4,402.0 1388.1,401.5 1388.7,401.0 1389.2,400.5 1389.6,399.9 1390.0,399.4 1390.4,398.8 1390.7,398.2 1391.0,397.5 1391.2,396.8 1391.3,396.0 1391.5,395.3 1391.5,394.5 1391.6,393.6 1391.6,392.7 1391.6,391.7 1391.7,390.9 1391.8,390.2 1391.9,389.7 1390.3,389.3 1390.2,389.8 1390.0,390.5 1389.7,391.3 1389.3,392.1 1388.9,392.9 1388.5,393.5 1388.2,394.0 1387.8,394.5 1387.4,395.0 1387.1,395.4 1386.7,395.8 1386.4,396.2 1386.1,396.6 1385.8,397.0 1385.6,397.3 1385.3,397.5 1385.1,397.8 1384.7,398.0 1384.3,398.3 1383.8,398.5 1383.3,398.8 1382.7,399.0 1382.1,399.2 1381.4,399.4 1380.7,399.5 1380.1,399.7 1379.6,399.8 1379.1,399.8 1378.5,399.8 1377.5,399.6 1376.2,399.3 1374.7,398.9 1372.9,398.3 1371.1,397.7 1369.1,397.0 1367.2,396.3 1365.2,395.5 1363.1,394.6 1360.9,393.7 1358.6,392.8 1356.5,391.9 1354.4,391.2 1352.6,390.7 1350.8,390.2 1349.1,389.8 1347.5,389.5 1345.9,389.2 1344.4,389.1 1342.9,389.1 1341.5,389.2 1340.2,389.5 1339.1,389.8 1338.0,390.1 1337.1,390.5 1336.1,390.9 1335.2,391.4 1334.4,392.0 1333.7,392.6 1333.1,393.4 1332.5,394.1 1331.9,395.1 1331.4,396.0 1331.1,397.0 1330.9,398.0 1330.8,399.0 1330.7,400.0 1330.7,401.1 1330.7,402.2 1330.8,403.4 1330.8,404.4 1330.7,405.3 1330.6,405.9Z" fill="#7d5fa6"/>
<path d="M1332.30,568.20 L1332.30,455.20 C1332.46,455.20 1332.26,456.65 1333.28,455.20 C1334.30,453.75 1336.25,448.73 1338.41,446.50 C1340.57,444.27 1342.51,442.13 1346.23,441.80 C1349.95,441.47 1355.09,443.25 1360.71,444.50 C1366.33,445.75 1375.53,448.80 1379.96,449.30 C1384.39,449.80 1385.05,448.53 1387.29,447.50 C1389.53,446.47 1392.38,443.83 1393.40,443.10 L1393.40,568.20 Z" fill="url(#b4)" stroke="none"/>
<path d="M1332.30,455.20 L1332.30,568.20 M1393.40,443.10 L1393.40,568.20" fill="none" stroke="#75569f" stroke-width="1.5"/>
<path d="M1332.2,451.1 1332.3,450.5 1332.5,449.7 1332.9,448.8 1333.3,447.8 1333.8,446.8 1334.3,446.0 1334.7,445.2 1335.2,444.4 1335.5,443.6 1335.8,442.9 1336.1,442.3 1336.4,441.9 1336.8,441.4 1337.1,441.0 1337.4,440.7 1337.8,440.5 1338.3,440.2 1338.9,439.9 1339.6,439.6 1340.4,439.4 1341.3,439.1 1342.2,439.0 1343.1,438.9 1344.2,438.9 1345.4,439.0 1346.7,439.2 1348.1,439.5 1349.6,439.8 1351.2,440.3 1352.9,440.8 1354.8,441.4 1356.8,442.2 1359.0,443.1 1361.2,444.1 1363.4,444.9 1365.5,445.7 1367.5,446.5 1369.5,447.2 1371.4,447.9 1373.2,448.5 1375.0,449.0 1376.5,449.4 1377.9,449.6 1379.2,449.6 1380.2,449.6 1381.2,449.4 1381.9,449.2 1382.6,449.0 1383.5,448.8 1384.3,448.5 1385.2,448.2 1386.0,447.8 1386.7,447.4 1387.4,447.0 1388.1,446.5 1388.7,446.0 1389.2,445.5 1389.6,444.9 1390.0,444.4 1390.4,443.8 1390.7,443.2 1391.0,442.5 1391.2,441.8 1391.3,441.0 1391.5,440.3 1391.5,439.5 1391.6,438.6 1391.6,437.7 1391.6,436.7 1391.7,435.9 1391.8,435.2 1391.9,434.7 1390.3,434.3 1390.2,434.8 1390.0,435.5 1389.7,436.3 1389.3,437.1 1388.9,437.9 1388.5,438.5 1388.2,439.0 1387.8,439.5 1387.4,440.0 1387.1,440.4 1386.7,440.8 1386.4,441.2 1386.1,441.6 1385.8,442.0 1385.6,442.3 1385.3,442.5 1385.1,442.8 1384.7,443.0 1384.3,443.3 1383.8,443.5 1383.3,443.8 1382.7,444.0 1382.1,444.2 1381.4,444.4 1380.7,444.5 1380.1,444.7 1379.6,444.8 1379.1,444.8 1378.5,444.8 1377.5,444.6 1376.2,444.3 1374.7,443.9 1372.9,443.3 1371.1,442.7 1369.1,442.0 1367.2,441.3 1365.2,440.5 1363.1,439.6 1360.9,438.7 1358.6,437.8 1356.5,436.9 1354.4,436.2 1352.6,435.7 1350.8,435.2 1349.1,434.8 1347.5,434.5 1345.9,434.2 1344.4,434.1 1342.9,434.1 1341.5,434.2 1340.2,434.5 1339.1,434.8 1338.0,435.1 1337.1,435.5 1336.1,435.9 1335.2,436.4 1334.4,437.0 1333.7,437.6 1333.1,438.4 1332.5,439.1 1331.9,440.1 1331.4,441.0 1331.1,442.0 1330.9,443.0 1330.8,444.0 1330.7,445.0 1330.7,446.1 1330.7,447.2 1330.8,448.4 1330.8,449.4 1330.7,450.3 1330.6,450.9Z" fill="#7d5fa6"/>
<g fill="#000" opacity="0.45" filter="url(#esh)" transform="translate(0.8,2.8)"><rect x="937.85" y="528.80" width="3.6" height="29.00"/><rect x="930.85" y="528.80" width="17.6" height="3.7"/><rect x="930.85" y="554.10" width="17.6" height="3.7"/></g>
<g fill="#000"><rect x="937.85" y="528.80" width="3.6" height="29.00"/><rect x="930.85" y="528.80" width="17.6" height="3.7"/><rect x="930.85" y="554.10" width="17.6" height="3.7"/></g>
<g fill="#000" opacity="0.45" filter="url(#esh)" transform="translate(0.8,2.8)"><rect x="1044.60" y="262.20" width="3.6" height="58.80"/><rect x="1037.60" y="262.20" width="17.6" height="3.7"/><rect x="1037.60" y="317.30" width="17.6" height="3.7"/></g>
<g fill="#000"><rect x="1044.60" y="262.20" width="3.6" height="58.80"/><rect x="1037.60" y="262.20" width="17.6" height="3.7"/><rect x="1037.60" y="317.30" width="17.6" height="3.7"/></g>
<g fill="#000" opacity="0.45" filter="url(#esh)" transform="translate(0.8,2.8)"><rect x="1150.45" y="99.90" width="3.6" height="11.30"/><rect x="1143.45" y="99.90" width="17.6" height="3.7"/><rect x="1143.45" y="107.50" width="17.6" height="3.7"/></g>
<g fill="#000"><rect x="1150.45" y="99.90" width="3.6" height="11.30"/><rect x="1143.45" y="99.90" width="17.6" height="3.7"/><rect x="1143.45" y="107.50" width="17.6" height="3.7"/></g>
<g fill="#000" opacity="0.45" filter="url(#esh)" transform="translate(0.8,2.8)"><rect x="1255.20" y="97.30" width="3.6" height="6.40"/><rect x="1248.20" y="97.30" width="17.6" height="3.7"/><rect x="1248.20" y="100.00" width="17.6" height="3.7"/></g>
<g fill="#000"><rect x="1255.20" y="97.30" width="3.6" height="6.40"/><rect x="1248.20" y="97.30" width="17.6" height="3.7"/><rect x="1248.20" y="100.00" width="17.6" height="3.7"/></g>
<g fill="#000" opacity="0.45" filter="url(#esh)" transform="translate(0.8,2.8)"><rect x="1360.70" y="98.50" width="3.6" height="4.40"/><rect x="1353.70" y="98.50" width="17.6" height="3.7"/><rect x="1353.70" y="99.20" width="17.6" height="3.7"/></g>
<g fill="#000"><rect x="1360.70" y="98.50" width="3.6" height="4.40"/><rect x="1353.70" y="98.50" width="17.6" height="3.7"/><rect x="1353.70" y="99.20" width="17.6" height="3.7"/></g>
<line x1="845.7" y1="51.7" x2="1459.5" y2="51.7" stroke="#000" stroke-width="1.6" />
<line x1="1459.5" y1="51.7" x2="1459.5" y2="567.6" stroke="#000" stroke-width="1.6" />
<line x1="843.3" y1="567.6" x2="1459.5" y2="567.6" stroke="#000" stroke-width="1.7" />
<line x1="857" y1="51.7" x2="857" y2="410.4" stroke="#000" stroke-width="1.8" />
<line x1="857" y1="445" x2="857" y2="567.6" stroke="#000" stroke-width="1.8" />
<path d="M838.6,421.8 C841,414.5 848,413 854.5,416.5 C860,419.5 866,424 870.5,414.2" fill="none" stroke="#000" stroke-width="2.6"/>
<path d="M838.6,432.3 C841,425.0 848,423.5 854.5,427.0 C860,430.0 866,434.5 870.5,424.7" fill="none" stroke="#000" stroke-width="2.6"/>
<text x="839.5" y="110.3" font-size="43" text-anchor="end" fill="#000" >100</text>
<text x="836.5" y="200.8" font-size="43" text-anchor="end" fill="#000" >95</text>
<text x="838.5" y="297.2" font-size="43" text-anchor="end" fill="#000" >90</text>
<text x="838" y="389.3" font-size="43" text-anchor="end" fill="#000" >85</text>
<text x="838.5" y="484.2" font-size="43" text-anchor="end" fill="#000" >10</text>
<text x="838.3" y="571.0" font-size="43" text-anchor="end" fill="#000" >0</text>
<text transform="translate(769,315.5) rotate(-90)" font-size="41" text-anchor="middle" textLength="413.5" lengthAdjust="spacingAndGlyphs">Virus reduction rate (%)</text>
<text x="940.8" y="600.6" font-size="43" text-anchor="middle" fill="#000" >Control</text>
<text x="1048" y="600.6" font-size="43" text-anchor="middle" fill="#000" >1</text>
<text x="1154" y="600.6" font-size="43" text-anchor="middle" fill="#000" >5</text>
<text x="1256" y="600.6" font-size="43" text-anchor="middle" fill="#000" >10</text>
<text x="1362" y="600.6" font-size="43" text-anchor="middle" fill="#000" >30</text>
<text x="904" y="645" font-size="42" textLength="498" lengthAdjust="spacingAndGlyphs">Exposure time to Si<tspan font-size="31.9" dy="10.0">3</tspan><tspan dy="-10.0">N</tspan><tspan font-size="31.9" dy="10.0">4</tspan><tspan dy="-10.0"> (min)</tspan></text>
<rect x="730.2" y="599" width="92.3" height="48.5" fill="#fff" stroke="#000" stroke-width="1.6"/>
<text x="741" y="633.9" font-size="44"><tspan font-style="italic">n</tspan>=3</text>
<g fill="#f00000"><use href="#ast" x="10.20" y="658.60"/><use href="#ast" x="34.20" y="658.60"/><use href="#ast" x="58.20" y="658.60"/></g>
<text y="667.2" font-size="32" fill="#f00000"><tspan x="72.5" font-style="italic">p</tspan><tspan x="88.5">&lt;</tspan><tspan x="107.5" letter-spacing="-2.5">10</tspan><tspan x="139.5" font-size="21" dy="-9.5">-3</tspan></text>
<text x="-1" y="756.6" font-size="77" text-anchor="start" fill="#000" >(b)</text>
<text x="212.8" y="733.7" font-size="48" textLength="1179" lengthAdjust="spacingAndGlyphs">Influenza A H1N1 – 15 wt.% Si<tspan font-size="31" dy="10.5">3</tspan><tspan dy="-10.5">N</tspan><tspan font-size="31" dy="10.5">4</tspan><tspan dy="-10.5"> – 4</tspan><tspan font-size="31" dy="-16">o</tspan><tspan dy="16">C – Virus/solution 1:1</tspan></text>
<line x1="117" y1="776.9" x2="706.9" y2="776.9" stroke="#4a4a4a" stroke-width="1.3" />
<line x1="117" y1="821.25" x2="706.9" y2="821.25" stroke="#4a4a4a" stroke-width="1.3" />
<line x1="117" y1="865.0" x2="706.9" y2="865.0" stroke="#4a4a4a" stroke-width="1.3" />
<line x1="117" y1="910.0" x2="706.9" y2="910.0" stroke="#4a4a4a" stroke-width="1.3" />
<line x1="117" y1="953.9" x2="706.9" y2="953.9" stroke="#4a4a4a" stroke-width="1.3" />
<line x1="117" y1="999.4" x2="706.9" y2="999.4" stroke="#4a4a4a" stroke-width="1.3" />
<line x1="117" y1="1044.5" x2="706.9" y2="1044.5" stroke="#4a4a4a" stroke-width="1.3" />
<line x1="117" y1="1088.7" x2="706.9" y2="1088.7" stroke="#4a4a4a" stroke-width="1.3" />
<line x1="117" y1="1133.7" x2="706.9" y2="1133.7" stroke="#4a4a4a" stroke-width="1.3" />
<line x1="117" y1="1177.8" x2="706.9" y2="1177.8" stroke="#4a4a4a" stroke-width="1.3" />
<line x1="117" y1="1222.4" x2="706.9" y2="1222.4" stroke="#4a4a4a" stroke-width="1.3" />
<rect x="168.20" y="1013.30" width="31.50" height="254.90" fill="url(#gp)" stroke="#75569f" stroke-width="1.6"/>
<rect x="169.70" y="1014.80" width="28.50" height="252.50" fill="none" stroke="#fff" stroke-opacity="0.28" stroke-width="1"/>
<rect x="221.80" y="941.80" width="34.20" height="326.40" fill="url(#go)" stroke="#ef8834" stroke-width="1.8"/>
<rect x="223.60" y="943.60" width="30.60" height="323.70" fill="none" stroke="#fff" stroke-opacity="0.15" stroke-width="1"/>
<rect x="308.20" y="1074.50" width="31.60" height="193.70" fill="url(#gp)" stroke="#75569f" stroke-width="1.6"/>
<rect x="309.70" y="1076.00" width="28.60" height="191.30" fill="none" stroke="#fff" stroke-opacity="0.28" stroke-width="1"/>
<rect x="361.30" y="932.30" width="34.60" height="335.90" fill="url(#go)" stroke="#ef8834" stroke-width="1.8"/>
<rect x="363.10" y="934.10" width="31.00" height="333.20" fill="none" stroke="#fff" stroke-opacity="0.15" stroke-width="1"/>
<rect x="444.50" y="1145.40" width="31.60" height="122.80" fill="url(#gp)" stroke="#75569f" stroke-width="1.6"/>
<rect x="446.00" y="1146.90" width="28.60" height="120.40" fill="none" stroke="#fff" stroke-opacity="0.28" stroke-width="1"/>
<rect x="498.70" y="944.70" width="31.60" height="323.50" fill="url(#go)" stroke="#ef8834" stroke-width="1.8"/>
<rect x="500.50" y="946.50" width="28.00" height="320.80" fill="none" stroke="#fff" stroke-opacity="0.15" stroke-width="1"/>
<rect x="580.10" y="1199.90" width="31.40" height="68.30" fill="url(#gp)" stroke="#75569f" stroke-width="1.6"/>
<rect x="581.60" y="1201.40" width="28.40" height="65.90" fill="none" stroke="#fff" stroke-opacity="0.28" stroke-width="1"/>
<rect x="633.30" y="940.10" width="32.50" height="328.10" fill="url(#go)" stroke="#ef8834" stroke-width="1.8"/>
<rect x="635.10" y="941.90" width="28.90" height="325.40" fill="none" stroke="#fff" stroke-opacity="0.15" stroke-width="1"/>
<g fill="#000" opacity="0.45" filter="url(#esh)" transform="translate(0.8,2.8)"><rect x="181.90" y="1003.20" width="3.6" height="17.80"/><rect x="174.90" y="1003.20" width="17.6" height="3.7"/><rect x="174.90" y="1017.30" width="17.6" height="3.7"/></g>
<g fill="#000"><rect x="181.90" y="1003.20" width="3.6" height="17.80"/><rect x="174.90" y="1003.20" width="17.6" height="3.7"/><rect x="174.90" y="1017.30" width="17.6" height="3.7"/></g>
<g fill="#000" opacity="0.45" filter="url(#esh)" transform="translate(0.8,2.8)"><rect x="235.70" y="937.60" width="3.6" height="8.20"/><rect x="228.70" y="937.60" width="17.6" height="3.7"/><rect x="228.70" y="942.10" width="17.6" height="3.7"/></g>
<g fill="#000"><rect x="235.70" y="937.60" width="3.6" height="8.20"/><rect x="228.70" y="937.60" width="17.6" height="3.7"/><rect x="228.70" y="942.10" width="17.6" height="3.7"/></g>
<g fill="#f00000"><use href="#ast" x="162.90" y="976.80"/><use href="#ast" x="186.90" y="976.80"/><use href="#ast" x="210.90" y="976.80"/></g>
<g fill="#000" opacity="0.45" filter="url(#esh)" transform="translate(0.8,2.8)"><rect x="321.90" y="1070.80" width="3.6" height="5.00"/><rect x="314.90" y="1070.80" width="17.6" height="3.7"/><rect x="314.90" y="1072.10" width="17.6" height="3.7"/></g>
<g fill="#000"><rect x="321.90" y="1070.80" width="3.6" height="5.00"/><rect x="314.90" y="1070.80" width="17.6" height="3.7"/><rect x="314.90" y="1072.10" width="17.6" height="3.7"/></g>
<g fill="#000" opacity="0.45" filter="url(#esh)" transform="translate(0.8,2.8)"><rect x="376.95" y="929.00" width="3.6" height="7.70"/><rect x="369.95" y="929.00" width="17.6" height="3.7"/><rect x="369.95" y="933.00" width="17.6" height="3.7"/></g>
<g fill="#000"><rect x="376.95" y="929.00" width="3.6" height="7.70"/><rect x="369.95" y="929.00" width="17.6" height="3.7"/><rect x="369.95" y="933.00" width="17.6" height="3.7"/></g>
<g fill="#f00000"><use href="#ast" x="303.20" y="1030.50"/><use href="#ast" x="327.20" y="1030.50"/><use href="#ast" x="351.20" y="1030.50"/></g>
<g fill="#000" opacity="0.45" filter="url(#esh)" transform="translate(0.8,2.8)"><rect x="458.05" y="1143.60" width="3.6" height="3.70"/><rect x="451.05" y="1143.60" width="17.6" height="3.7"/><rect x="451.05" y="1143.60" width="17.6" height="3.7"/></g>
<g fill="#000"><rect x="458.05" y="1143.60" width="3.6" height="3.70"/><rect x="451.05" y="1143.60" width="17.6" height="3.7"/><rect x="451.05" y="1143.60" width="17.6" height="3.7"/></g>
<g fill="#000" opacity="0.45" filter="url(#esh)" transform="translate(0.8,2.8)"><rect x="512.50" y="931.00" width="3.6" height="24.90"/><rect x="505.50" y="931.00" width="17.6" height="3.7"/><rect x="505.50" y="952.20" width="17.6" height="3.7"/></g>
<g fill="#000"><rect x="512.50" y="931.00" width="3.6" height="24.90"/><rect x="505.50" y="931.00" width="17.6" height="3.7"/><rect x="505.50" y="952.20" width="17.6" height="3.7"/></g>
<g fill="#f00000"><use href="#ast" x="440.70" y="1108.00"/><use href="#ast" x="464.70" y="1108.00"/><use href="#ast" x="488.70" y="1108.00"/></g>
<g fill="#000" opacity="0.45" filter="url(#esh)" transform="translate(0.8,2.8)"><rect x="593.05" y="1198.00" width="3.6" height="3.90"/><rect x="586.05" y="1198.00" width="17.6" height="3.7"/><rect x="586.05" y="1198.20" width="17.6" height="3.7"/></g>
<g fill="#000"><rect x="593.05" y="1198.00" width="3.6" height="3.90"/><rect x="586.05" y="1198.00" width="17.6" height="3.7"/><rect x="586.05" y="1198.20" width="17.6" height="3.7"/></g>
<g fill="#000" opacity="0.45" filter="url(#esh)" transform="translate(0.8,2.8)"><rect x="647.80" y="930.40" width="3.6" height="17.20"/><rect x="640.80" y="930.40" width="17.6" height="3.7"/><rect x="640.80" y="943.90" width="17.6" height="3.7"/></g>
<g fill="#000"><rect x="647.80" y="930.40" width="3.6" height="17.20"/><rect x="640.80" y="930.40" width="17.6" height="3.7"/><rect x="640.80" y="943.90" width="17.6" height="3.7"/></g>
<g fill="#f00000"><use href="#ast" x="571.90" y="1163.50"/><use href="#ast" x="595.90" y="1163.50"/><use href="#ast" x="619.90" y="1163.50"/></g>
<rect x="128.1" y="751.7" width="578.8" height="515.9" fill="none" stroke="#000" stroke-width="1.6"/>
<line x1="117" y1="1267.6" x2="128.1" y2="1267.6" stroke="#000" stroke-width="1.6" />
<rect x="137.1" y="760.1" width="304.59999999999997" height="134.6" fill="#fff" stroke="#000" stroke-width="1.6"/>
<text x="180.5" y="794.9" font-size="37.5">Si<tspan font-size="24.0" dy="8.2">3</tspan><tspan dy="-8.2">N</tspan><tspan font-size="24.0" dy="8.2">4</tspan></text>
<text x="161.5" y="829.9" font-size="36.5" text-anchor="start" fill="#000" >exposed</text>
<text x="305.5" y="829.9" font-size="36.5" text-anchor="start" fill="#000" >Control</text>
<rect x="204" y="882.5" width="37" height="6" fill="#000" opacity="0.4" filter="url(#sh)"/>
<rect x="343" y="881.8" width="37" height="6" fill="#000" opacity="0.4" filter="url(#sh)"/>
<rect x="206.6" y="847.8" width="31.8" height="33.4" fill="url(#gp)" stroke="#75569f" stroke-width="1.5"/>
<rect x="345.3" y="846.7" width="32.7" height="34" fill="url(#go)" stroke="#ef8834" stroke-width="1.5"/>
<line x1="184.7" y1="882" x2="262.9" y2="882" stroke="#000" stroke-width="1.6" />
<line x1="323" y1="881.3" x2="401.8" y2="881.3" stroke="#000" stroke-width="1.6" />
<text x="106.8" y="830.8" font-size="43" text-anchor="end" fill="#000" >5</text>
<text x="106.7" y="920.9" font-size="43" text-anchor="end" fill="#000" >4</text>
<text x="105.8" y="1010.2" font-size="43" text-anchor="end" fill="#000" >3</text>
<text x="107.0" y="1102" font-size="43" text-anchor="end" fill="#000" >2</text>
<text x="105.3" y="1190" font-size="43" text-anchor="end" fill="#000" >1</text>
<text x="109.2" y="1271.2" font-size="43" text-anchor="end" fill="#000" >0</text>
<text transform="translate(34.5,1010) rotate(-90)" font-size="42" text-anchor="middle" textLength="303.5" lengthAdjust="spacingAndGlyphs">Log (PFU/100 µl)</text>
<text x="210" y="1302.4" font-size="43" text-anchor="middle" fill="#000" >1</text>
<text x="351.6" y="1302.4" font-size="43" text-anchor="middle" fill="#000" >5</text>
<text x="489" y="1302.4" font-size="43" text-anchor="middle" fill="#000" >10</text>
<text x="623.6" y="1302.4" font-size="43" text-anchor="middle" fill="#000" >30</text>
<text x="167.5" y="1344.6" font-size="42" textLength="499" lengthAdjust="spacingAndGlyphs">Exposure time to Si<tspan font-size="31.9" dy="10.0">3</tspan><tspan dy="-10.0">N</tspan><tspan font-size="31.9" dy="10.0">4</tspan><tspan dy="-10.0"> (min)</tspan></text>
<line x1="845.7" y1="798.4" x2="1459.5" y2="798.4" stroke="#4a4a4a" stroke-width="1.3" />
<line x1="845.7" y1="844.8" x2="1459.5" y2="844.8" stroke="#4a4a4a" stroke-width="1.3" />
<line x1="845.7" y1="890.4" x2="1459.5" y2="890.4" stroke="#4a4a4a" stroke-width="1.3" />
<line x1="845.7" y1="937.2" x2="1459.5" y2="937.2" stroke="#4a4a4a" stroke-width="1.3" />
<line x1="845.7" y1="985.4" x2="1459.5" y2="985.4" stroke="#4a4a4a" stroke-width="1.3" />
<line x1="845.7" y1="1035.0" x2="1459.5" y2="1035.0" stroke="#4a4a4a" stroke-width="1.3" />
<line x1="845.7" y1="1127.4" x2="1459.5" y2="1127.4" stroke="#4a4a4a" stroke-width="1.3" />
<line x1="845.7" y1="1173.1" x2="1459.5" y2="1173.1" stroke="#4a4a4a" stroke-width="1.3" />
<line x1="845.7" y1="1220.7" x2="1459.5" y2="1220.7" stroke="#4a4a4a" stroke-width="1.3" />
<rect x="909.00" y="1253.00" width="62.30" height="14.50" fill="url(#gp)" stroke="#75569f" stroke-width="1.6"/>
<rect x="910.30" y="1254.30" width="59.70" height="12.30" fill="none" stroke="#fff" stroke-opacity="0.28" stroke-width="1"/>
<linearGradient id="c1" gradientUnits="userSpaceOnUse" x1="0" y1="947.0" x2="0" y2="1268"><stop offset="0" stop-color="#cbb6ef"/><stop offset="0.5" stop-color="#a68cd0"/><stop offset="1" stop-color="#7c58a8"/></linearGradient>
<path d="M1016.80,947.00 L1078.60,947.00 L1078.60,1052.00 C1077.76,1053.32 1074.97,1058.40 1073.53,1059.90 C1072.09,1061.40 1071.86,1060.68 1069.95,1061.00 C1068.03,1061.32 1065.16,1062.38 1062.04,1061.80 C1058.92,1061.22 1055.16,1059.05 1051.22,1057.50 C1047.29,1055.95 1042.15,1053.63 1038.43,1052.50 C1034.71,1051.37 1031.49,1050.37 1028.91,1050.70 C1026.34,1051.03 1024.59,1052.60 1022.98,1054.50 C1021.37,1056.40 1020.30,1060.83 1019.27,1062.10 C1018.24,1063.37 1017.21,1062.10 1016.80,1062.10 Z" fill="url(#c1)" stroke="none"/>
<path d="M1016.80,1062.10 L1016.80,947.00 L1078.60,947.00 L1078.60,1052.00" fill="none" stroke="#75569f" stroke-width="1.5"/>
<path d="M1016.7,1061.1 1016.8,1060.5 1017.0,1059.7 1017.3,1058.8 1017.8,1057.8 1018.3,1056.8 1018.8,1056.0 1019.2,1055.2 1019.7,1054.4 1020.0,1053.6 1020.4,1052.9 1020.6,1052.3 1020.9,1051.9 1021.3,1051.4 1021.6,1051.1 1022.0,1050.7 1022.4,1050.5 1022.8,1050.2 1023.5,1049.9 1024.2,1049.6 1025.0,1049.4 1025.9,1049.1 1026.8,1049.0 1027.7,1048.9 1028.8,1048.9 1030.0,1049.0 1031.3,1049.2 1032.8,1049.5 1034.3,1049.8 1036.0,1050.3 1037.7,1050.8 1039.6,1051.4 1041.6,1052.2 1043.8,1053.1 1046.1,1054.1 1048.3,1055.0 1050.4,1055.8 1052.4,1056.5 1054.4,1057.2 1056.4,1057.9 1058.2,1058.5 1060.0,1059.0 1061.6,1059.4 1063.0,1059.6 1064.2,1059.6 1065.3,1059.6 1066.2,1059.4 1067.0,1059.2 1067.7,1059.0 1068.5,1058.8 1069.4,1058.5 1070.3,1058.2 1071.1,1057.8 1071.8,1057.4 1072.5,1057.0 1073.2,1056.5 1073.8,1056.0 1074.3,1055.5 1074.8,1054.9 1075.2,1054.4 1075.5,1053.8 1075.8,1053.2 1076.1,1052.5 1076.3,1051.8 1076.5,1051.0 1076.6,1050.3 1076.7,1049.5 1076.7,1048.6 1076.8,1047.7 1076.8,1046.7 1076.9,1045.9 1076.9,1045.2 1077.0,1044.7 1075.5,1044.3 1075.3,1044.8 1075.2,1045.5 1074.9,1046.3 1074.5,1047.1 1074.1,1047.9 1073.7,1048.5 1073.3,1049.0 1072.9,1049.5 1072.6,1050.0 1072.2,1050.4 1071.9,1050.8 1071.6,1051.2 1071.3,1051.6 1071.0,1052.0 1070.7,1052.3 1070.5,1052.5 1070.2,1052.8 1069.9,1053.0 1069.4,1053.3 1068.9,1053.5 1068.4,1053.8 1067.8,1054.0 1067.2,1054.2 1066.5,1054.4 1065.8,1054.5 1065.2,1054.7 1064.7,1054.8 1064.2,1054.8 1063.5,1054.8 1062.5,1054.6 1061.2,1054.3 1059.6,1053.9 1057.9,1053.3 1056.0,1052.7 1054.0,1052.0 1052.1,1051.2 1050.0,1050.5 1047.9,1049.6 1045.7,1048.7 1043.4,1047.8 1041.2,1046.9 1039.2,1046.2 1037.3,1045.6 1035.5,1045.2 1033.8,1044.8 1032.1,1044.5 1030.5,1044.2 1029.0,1044.1 1027.5,1044.1 1026.1,1044.2 1024.8,1044.5 1023.7,1044.8 1022.6,1045.1 1021.6,1045.5 1020.7,1045.9 1019.8,1046.4 1019.0,1047.0 1018.3,1047.6 1017.6,1048.3 1017.0,1049.1 1016.4,1050.1 1016.0,1051.0 1015.6,1052.0 1015.4,1053.0 1015.3,1054.0 1015.2,1055.0 1015.2,1056.1 1015.2,1057.2 1015.3,1058.4 1015.2,1059.4 1015.2,1060.3 1015.1,1060.9Z" fill="#7d5fa6"/>
<path d="M1016.80,1268.20 L1016.80,1110.20 C1016.96,1110.20 1016.76,1111.65 1017.79,1110.20 C1018.82,1108.75 1020.80,1103.73 1022.98,1101.50 C1025.16,1099.27 1027.13,1097.13 1030.89,1096.80 C1034.65,1096.47 1039.85,1098.25 1045.54,1099.50 C1051.22,1100.75 1060.52,1103.80 1065.00,1104.30 C1069.48,1104.80 1070.15,1103.53 1072.42,1102.50 C1074.69,1101.47 1077.57,1098.83 1078.60,1098.10 L1078.60,1268.20 Z" fill="url(#c1)" stroke="none"/>
<path d="M1016.80,1110.20 L1016.80,1268.20 M1078.60,1098.10 L1078.60,1268.20" fill="none" stroke="#75569f" stroke-width="1.5"/>
<path d="M1016.7,1106.1 1016.8,1105.5 1017.0,1104.7 1017.3,1103.8 1017.8,1102.8 1018.3,1101.8 1018.8,1101.0 1019.2,1100.2 1019.7,1099.4 1020.0,1098.6 1020.4,1097.9 1020.6,1097.3 1020.9,1096.9 1021.3,1096.4 1021.6,1096.1 1022.0,1095.7 1022.4,1095.5 1022.8,1095.2 1023.5,1094.9 1024.2,1094.6 1025.0,1094.4 1025.9,1094.1 1026.8,1094.0 1027.7,1093.9 1028.8,1093.9 1030.0,1094.0 1031.3,1094.2 1032.8,1094.5 1034.3,1094.8 1036.0,1095.3 1037.7,1095.8 1039.6,1096.4 1041.6,1097.2 1043.8,1098.1 1046.1,1099.1 1048.3,1100.0 1050.4,1100.8 1052.4,1101.5 1054.4,1102.2 1056.4,1102.9 1058.2,1103.5 1060.0,1104.0 1061.6,1104.4 1063.0,1104.6 1064.2,1104.6 1065.3,1104.6 1066.2,1104.4 1067.0,1104.2 1067.7,1104.0 1068.5,1103.8 1069.4,1103.5 1070.3,1103.2 1071.1,1102.8 1071.8,1102.4 1072.5,1102.0 1073.2,1101.5 1073.8,1101.0 1074.3,1100.5 1074.8,1099.9 1075.2,1099.4 1075.5,1098.8 1075.8,1098.2 1076.1,1097.5 1076.3,1096.8 1076.5,1096.0 1076.6,1095.3 1076.7,1094.5 1076.7,1093.6 1076.8,1092.7 1076.8,1091.7 1076.9,1090.9 1076.9,1090.2 1077.0,1089.7 1075.5,1089.3 1075.3,1089.8 1075.2,1090.5 1074.9,1091.3 1074.5,1092.1 1074.1,1092.9 1073.7,1093.5 1073.3,1094.0 1072.9,1094.5 1072.6,1095.0 1072.2,1095.4 1071.9,1095.8 1071.6,1096.2 1071.3,1096.6 1071.0,1097.0 1070.7,1097.3 1070.5,1097.5 1070.2,1097.8 1069.9,1098.0 1069.4,1098.3 1068.9,1098.5 1068.4,1098.8 1067.8,1099.0 1067.2,1099.2 1066.5,1099.4 1065.8,1099.5 1065.2,1099.7 1064.7,1099.8 1064.2,1099.8 1063.5,1099.8 1062.5,1099.6 1061.2,1099.3 1059.6,1098.9 1057.9,1098.3 1056.0,1097.7 1054.0,1097.0 1052.1,1096.2 1050.0,1095.5 1047.9,1094.6 1045.7,1093.7 1043.4,1092.8 1041.2,1091.9 1039.2,1091.2 1037.3,1090.6 1035.5,1090.2 1033.8,1089.8 1032.1,1089.5 1030.5,1089.2 1029.0,1089.1 1027.5,1089.1 1026.1,1089.2 1024.8,1089.5 1023.7,1089.8 1022.6,1090.1 1021.6,1090.5 1020.7,1090.9 1019.8,1091.4 1019.0,1092.0 1018.3,1092.6 1017.6,1093.3 1017.0,1094.1 1016.4,1095.1 1016.0,1096.0 1015.6,1097.0 1015.4,1098.0 1015.3,1099.0 1015.2,1100.0 1015.2,1101.1 1015.2,1102.2 1015.3,1103.4 1015.2,1104.4 1015.2,1105.3 1015.1,1105.9Z" fill="#7d5fa6"/>
<linearGradient id="c2" gradientUnits="userSpaceOnUse" x1="0" y1="805.1" x2="0" y2="1268"><stop offset="0" stop-color="#cbb6ef"/><stop offset="0.5" stop-color="#a68cd0"/><stop offset="1" stop-color="#7c58a8"/></linearGradient>
<path d="M1121.00,805.10 L1183.40,805.10 L1183.40,1053.50 C1182.55,1054.82 1179.74,1059.90 1178.28,1061.40 C1176.83,1062.90 1176.60,1062.18 1174.66,1062.50 C1172.73,1062.82 1169.83,1063.88 1166.68,1063.30 C1163.53,1062.72 1159.73,1060.55 1155.76,1059.00 C1151.78,1057.45 1146.59,1055.13 1142.84,1054.00 C1139.09,1052.87 1135.83,1051.87 1133.23,1052.20 C1130.63,1052.53 1128.86,1054.10 1127.24,1056.00 C1125.62,1057.90 1124.54,1062.33 1123.50,1063.60 C1122.46,1064.87 1121.42,1063.60 1121.00,1063.60 Z" fill="url(#c2)" stroke="none"/>
<path d="M1121.00,1063.60 L1121.00,805.10 L1183.40,805.10 L1183.40,1053.50" fill="none" stroke="#75569f" stroke-width="1.5"/>
<path d="M1120.9,1062.6 1121.0,1062.0 1121.2,1061.2 1121.5,1060.3 1122.0,1059.3 1122.5,1058.3 1122.9,1057.5 1123.4,1056.7 1123.8,1055.9 1124.2,1055.1 1124.6,1054.5 1124.8,1053.9 1125.2,1053.4 1125.5,1052.9 1125.8,1052.6 1126.2,1052.3 1126.6,1052.0 1127.1,1051.7 1127.7,1051.4 1128.5,1051.1 1129.3,1050.9 1130.1,1050.6 1131.1,1050.5 1132.0,1050.4 1133.1,1050.4 1134.3,1050.5 1135.7,1050.7 1137.1,1051.0 1138.7,1051.3 1140.4,1051.8 1142.1,1052.3 1144.0,1052.9 1146.1,1053.7 1148.3,1054.6 1150.6,1055.6 1152.8,1056.5 1154.9,1057.3 1157.0,1058.0 1159.0,1058.7 1160.9,1059.4 1162.8,1060.0 1164.6,1060.5 1166.2,1060.9 1167.6,1061.1 1168.9,1061.1 1170.0,1061.1 1170.9,1060.9 1171.6,1060.7 1172.4,1060.5 1173.2,1060.3 1174.1,1060.0 1175.0,1059.7 1175.8,1059.3 1176.5,1058.9 1177.2,1058.5 1177.9,1058.0 1178.5,1057.5 1179.0,1057.0 1179.5,1056.4 1179.9,1055.9 1180.2,1055.3 1180.6,1054.7 1180.9,1054.0 1181.1,1053.3 1181.2,1052.5 1181.4,1051.8 1181.5,1051.0 1181.5,1050.1 1181.5,1049.2 1181.6,1048.2 1181.6,1047.4 1181.7,1046.7 1181.8,1046.2 1180.2,1045.8 1180.1,1046.3 1179.9,1047.0 1179.6,1047.8 1179.3,1048.6 1178.9,1049.4 1178.5,1050.0 1178.1,1050.5 1177.7,1051.0 1177.3,1051.5 1177.0,1051.9 1176.6,1052.3 1176.3,1052.7 1176.0,1053.1 1175.7,1053.4 1175.5,1053.7 1175.2,1054.0 1174.9,1054.2 1174.6,1054.5 1174.2,1054.8 1173.7,1055.0 1173.1,1055.3 1172.5,1055.5 1171.9,1055.7 1171.2,1055.9 1170.5,1056.0 1169.9,1056.2 1169.4,1056.3 1168.8,1056.3 1168.1,1056.3 1167.1,1056.1 1165.8,1055.8 1164.2,1055.4 1162.5,1054.8 1160.5,1054.2 1158.6,1053.5 1156.6,1052.7 1154.6,1052.0 1152.4,1051.1 1150.1,1050.2 1147.9,1049.3 1145.6,1048.4 1143.6,1047.7 1141.7,1047.1 1139.9,1046.7 1138.1,1046.3 1136.5,1046.0 1134.9,1045.7 1133.3,1045.6 1131.8,1045.6 1130.4,1045.7 1129.1,1046.0 1128.0,1046.3 1126.9,1046.6 1125.9,1047.0 1124.9,1047.4 1124.1,1047.9 1123.2,1048.5 1122.5,1049.1 1121.8,1049.8 1121.2,1050.6 1120.6,1051.5 1120.2,1052.5 1119.8,1053.5 1119.6,1054.5 1119.5,1055.5 1119.4,1056.5 1119.4,1057.6 1119.4,1058.7 1119.5,1059.9 1119.4,1060.9 1119.4,1061.8 1119.3,1062.4Z" fill="#7d5fa6"/>
<path d="M1121.00,1268.20 L1121.00,1111.70 C1121.17,1111.70 1120.96,1113.15 1122.00,1111.70 C1123.04,1110.25 1125.04,1105.23 1127.24,1103.00 C1129.44,1100.77 1131.43,1098.63 1135.23,1098.30 C1139.02,1097.97 1144.28,1099.75 1150.02,1101.00 C1155.76,1102.25 1165.15,1105.30 1169.67,1105.80 C1174.20,1106.30 1174.87,1105.03 1177.16,1104.00 C1179.45,1102.97 1182.36,1100.33 1183.40,1099.60 L1183.40,1268.20 Z" fill="url(#c2)" stroke="none"/>
<path d="M1121.00,1111.70 L1121.00,1268.20 M1183.40,1099.60 L1183.40,1268.20" fill="none" stroke="#75569f" stroke-width="1.5"/>
<path d="M1120.9,1107.6 1121.0,1107.0 1121.2,1106.2 1121.5,1105.3 1122.0,1104.3 1122.5,1103.3 1122.9,1102.5 1123.4,1101.7 1123.8,1100.9 1124.2,1100.1 1124.6,1099.5 1124.8,1098.9 1125.2,1098.4 1125.5,1097.9 1125.8,1097.6 1126.2,1097.3 1126.6,1097.0 1127.1,1096.7 1127.7,1096.4 1128.5,1096.1 1129.3,1095.9 1130.1,1095.6 1131.1,1095.5 1132.0,1095.4 1133.1,1095.4 1134.3,1095.5 1135.7,1095.7 1137.1,1096.0 1138.7,1096.3 1140.4,1096.8 1142.1,1097.3 1144.0,1097.9 1146.1,1098.7 1148.3,1099.6 1150.6,1100.6 1152.8,1101.5 1154.9,1102.3 1157.0,1103.0 1159.0,1103.7 1160.9,1104.4 1162.8,1105.0 1164.6,1105.5 1166.2,1105.9 1167.6,1106.1 1168.9,1106.1 1170.0,1106.1 1170.9,1105.9 1171.6,1105.7 1172.4,1105.5 1173.2,1105.3 1174.1,1105.0 1175.0,1104.7 1175.8,1104.3 1176.5,1103.9 1177.2,1103.5 1177.9,1103.0 1178.5,1102.5 1179.0,1102.0 1179.5,1101.4 1179.9,1100.9 1180.2,1100.3 1180.6,1099.7 1180.9,1099.0 1181.1,1098.3 1181.2,1097.5 1181.4,1096.8 1181.5,1096.0 1181.5,1095.1 1181.5,1094.2 1181.6,1093.2 1181.6,1092.4 1181.7,1091.7 1181.8,1091.2 1180.2,1090.8 1180.1,1091.3 1179.9,1092.0 1179.6,1092.8 1179.3,1093.6 1178.9,1094.4 1178.5,1095.0 1178.1,1095.5 1177.7,1096.0 1177.3,1096.5 1177.0,1096.9 1176.6,1097.3 1176.3,1097.7 1176.0,1098.1 1175.7,1098.4 1175.5,1098.7 1175.2,1099.0 1174.9,1099.2 1174.6,1099.5 1174.2,1099.8 1173.7,1100.0 1173.1,1100.3 1172.5,1100.5 1171.9,1100.7 1171.2,1100.9 1170.5,1101.0 1169.9,1101.2 1169.4,1101.3 1168.8,1101.3 1168.1,1101.3 1167.1,1101.1 1165.8,1100.8 1164.2,1100.4 1162.5,1099.8 1160.5,1099.2 1158.6,1098.5 1156.6,1097.7 1154.6,1097.0 1152.4,1096.1 1150.1,1095.2 1147.9,1094.3 1145.6,1093.4 1143.6,1092.7 1141.7,1092.1 1139.9,1091.7 1138.1,1091.3 1136.5,1091.0 1134.9,1090.7 1133.3,1090.6 1131.8,1090.6 1130.4,1090.7 1129.1,1091.0 1128.0,1091.3 1126.9,1091.6 1125.9,1092.0 1124.9,1092.4 1124.1,1092.9 1123.2,1093.5 1122.5,1094.1 1121.8,1094.8 1121.2,1095.6 1120.6,1096.5 1120.2,1097.5 1119.8,1098.5 1119.6,1099.5 1119.5,1100.5 1119.4,1101.5 1119.4,1102.6 1119.4,1103.7 1119.5,1104.9 1119.4,1105.9 1119.4,1106.8 1119.3,1107.4Z" fill="#7d5fa6"/>
<linearGradient id="c3" gradientUnits="userSpaceOnUse" x1="0" y1="806.7" x2="0" y2="1268"><stop offset="0" stop-color="#cbb6ef"/><stop offset="0.5" stop-color="#a68cd0"/><stop offset="1" stop-color="#7c58a8"/></linearGradient>
<path d="M1226.40,806.70 L1288.30,806.70 L1288.30,1054.50 C1287.45,1055.82 1284.67,1060.90 1283.22,1062.40 C1281.78,1063.90 1281.55,1063.18 1279.63,1063.50 C1277.72,1063.82 1274.84,1064.88 1271.71,1064.30 C1268.58,1063.72 1264.82,1061.55 1260.88,1060.00 C1256.94,1058.45 1251.79,1056.13 1248.07,1055.00 C1244.34,1053.87 1241.11,1052.87 1238.53,1053.20 C1235.95,1053.53 1234.20,1055.10 1232.59,1057.00 C1230.98,1058.90 1229.91,1063.33 1228.88,1064.60 C1227.84,1065.87 1226.81,1064.60 1226.40,1064.60 Z" fill="url(#c3)" stroke="none"/>
<path d="M1226.40,1064.60 L1226.40,806.70 L1288.30,806.70 L1288.30,1054.50" fill="none" stroke="#75569f" stroke-width="1.5"/>
<path d="M1226.3,1063.6 1226.4,1063.0 1226.6,1062.2 1226.9,1061.3 1227.4,1060.3 1227.9,1059.3 1228.4,1058.5 1228.8,1057.7 1229.2,1056.9 1229.6,1056.1 1230.0,1055.4 1230.2,1054.9 1230.5,1054.4 1230.9,1053.9 1231.2,1053.6 1231.6,1053.2 1232.0,1053.0 1232.5,1052.7 1233.1,1052.4 1233.8,1052.1 1234.6,1051.9 1235.5,1051.6 1236.4,1051.5 1237.4,1051.4 1238.4,1051.4 1239.6,1051.5 1241.0,1051.7 1242.4,1052.0 1243.9,1052.3 1245.6,1052.8 1247.3,1053.3 1249.2,1053.9 1251.3,1054.7 1253.5,1055.6 1255.7,1056.6 1257.9,1057.5 1260.0,1058.3 1262.1,1059.0 1264.1,1059.7 1266.0,1060.4 1267.9,1061.0 1269.6,1061.5 1271.2,1061.9 1272.6,1062.1 1273.9,1062.1 1275.0,1062.1 1275.9,1061.9 1276.6,1061.7 1277.4,1061.5 1278.2,1061.3 1279.1,1061.0 1279.9,1060.7 1280.7,1060.3 1281.5,1059.9 1282.2,1059.5 1282.9,1059.0 1283.5,1058.5 1284.0,1058.0 1284.4,1057.4 1284.8,1056.9 1285.2,1056.3 1285.5,1055.7 1285.8,1055.0 1286.0,1054.3 1286.2,1053.5 1286.3,1052.8 1286.4,1052.0 1286.4,1051.1 1286.5,1050.2 1286.5,1049.2 1286.5,1048.4 1286.6,1047.7 1286.7,1047.2 1285.2,1046.8 1285.0,1047.3 1284.8,1048.0 1284.6,1048.8 1284.2,1049.6 1283.8,1050.4 1283.4,1051.0 1283.0,1051.5 1282.6,1052.0 1282.3,1052.5 1281.9,1052.9 1281.6,1053.3 1281.3,1053.7 1280.9,1054.1 1280.7,1054.5 1280.4,1054.8 1280.2,1055.0 1279.9,1055.3 1279.6,1055.5 1279.1,1055.8 1278.6,1056.0 1278.1,1056.3 1277.5,1056.5 1276.9,1056.7 1276.2,1056.9 1275.5,1057.0 1274.9,1057.2 1274.4,1057.3 1273.9,1057.3 1273.2,1057.3 1272.2,1057.1 1270.9,1056.8 1269.3,1056.4 1267.5,1055.8 1265.6,1055.2 1263.7,1054.5 1261.7,1053.7 1259.7,1053.0 1257.5,1052.1 1255.3,1051.2 1253.1,1050.3 1250.9,1049.4 1248.8,1048.7 1246.9,1048.1 1245.1,1047.7 1243.4,1047.3 1241.7,1047.0 1240.2,1046.7 1238.6,1046.6 1237.2,1046.6 1235.8,1046.7 1234.5,1047.0 1233.3,1047.3 1232.2,1047.6 1231.2,1048.0 1230.3,1048.4 1229.4,1048.9 1228.6,1049.5 1227.9,1050.1 1227.2,1050.8 1226.6,1051.6 1226.0,1052.5 1225.6,1053.5 1225.2,1054.5 1225.0,1055.5 1224.9,1056.5 1224.8,1057.5 1224.8,1058.6 1224.8,1059.7 1224.9,1060.9 1224.8,1061.9 1224.8,1062.8 1224.7,1063.4Z" fill="#7d5fa6"/>
<path d="M1226.40,1268.20 L1226.40,1112.70 C1226.57,1112.70 1226.36,1114.15 1227.39,1112.70 C1228.42,1111.25 1230.40,1106.23 1232.59,1104.00 C1234.78,1101.77 1236.75,1099.63 1240.51,1099.30 C1244.28,1098.97 1249.49,1100.75 1255.18,1102.00 C1260.88,1103.25 1270.19,1106.30 1274.68,1106.80 C1279.17,1107.30 1279.84,1106.03 1282.11,1105.00 C1284.38,1103.97 1287.27,1101.33 1288.30,1100.60 L1288.30,1268.20 Z" fill="url(#c3)" stroke="none"/>
<path d="M1226.40,1112.70 L1226.40,1268.20 M1288.30,1100.60 L1288.30,1268.20" fill="none" stroke="#75569f" stroke-width="1.5"/>
<path d="M1226.3,1108.6 1226.4,1108.0 1226.6,1107.2 1226.9,1106.3 1227.4,1105.3 1227.9,1104.3 1228.4,1103.5 1228.8,1102.7 1229.2,1101.9 1229.6,1101.1 1230.0,1100.4 1230.2,1099.9 1230.5,1099.4 1230.9,1098.9 1231.2,1098.6 1231.6,1098.2 1232.0,1098.0 1232.5,1097.7 1233.1,1097.4 1233.8,1097.1 1234.6,1096.9 1235.5,1096.6 1236.4,1096.5 1237.4,1096.4 1238.4,1096.4 1239.6,1096.5 1241.0,1096.7 1242.4,1097.0 1243.9,1097.3 1245.6,1097.8 1247.3,1098.3 1249.2,1098.9 1251.3,1099.7 1253.5,1100.6 1255.7,1101.6 1257.9,1102.5 1260.0,1103.3 1262.1,1104.0 1264.1,1104.7 1266.0,1105.4 1267.9,1106.0 1269.6,1106.5 1271.2,1106.9 1272.6,1107.1 1273.9,1107.1 1275.0,1107.1 1275.9,1106.9 1276.6,1106.7 1277.4,1106.5 1278.2,1106.3 1279.1,1106.0 1279.9,1105.7 1280.7,1105.3 1281.5,1104.9 1282.2,1104.5 1282.9,1104.0 1283.5,1103.5 1284.0,1103.0 1284.4,1102.4 1284.8,1101.9 1285.2,1101.3 1285.5,1100.7 1285.8,1100.0 1286.0,1099.3 1286.2,1098.5 1286.3,1097.8 1286.4,1097.0 1286.4,1096.1 1286.5,1095.2 1286.5,1094.2 1286.5,1093.4 1286.6,1092.7 1286.7,1092.2 1285.2,1091.8 1285.0,1092.3 1284.8,1093.0 1284.6,1093.8 1284.2,1094.6 1283.8,1095.4 1283.4,1096.0 1283.0,1096.5 1282.6,1097.0 1282.3,1097.5 1281.9,1097.9 1281.6,1098.3 1281.3,1098.7 1280.9,1099.1 1280.7,1099.5 1280.4,1099.8 1280.2,1100.0 1279.9,1100.3 1279.6,1100.5 1279.1,1100.8 1278.6,1101.0 1278.1,1101.3 1277.5,1101.5 1276.9,1101.7 1276.2,1101.9 1275.5,1102.0 1274.9,1102.2 1274.4,1102.3 1273.9,1102.3 1273.2,1102.3 1272.2,1102.1 1270.9,1101.8 1269.3,1101.4 1267.5,1100.8 1265.6,1100.2 1263.7,1099.5 1261.7,1098.7 1259.7,1098.0 1257.5,1097.1 1255.3,1096.2 1253.1,1095.3 1250.9,1094.4 1248.8,1093.7 1246.9,1093.1 1245.1,1092.7 1243.4,1092.3 1241.7,1092.0 1240.2,1091.7 1238.6,1091.6 1237.2,1091.6 1235.8,1091.7 1234.5,1092.0 1233.3,1092.3 1232.2,1092.6 1231.2,1093.0 1230.3,1093.4 1229.4,1093.9 1228.6,1094.5 1227.9,1095.1 1227.2,1095.8 1226.6,1096.6 1226.0,1097.5 1225.6,1098.5 1225.2,1099.5 1225.0,1100.5 1224.9,1101.5 1224.8,1102.5 1224.8,1103.6 1224.8,1104.7 1224.9,1105.9 1224.8,1106.9 1224.8,1107.8 1224.7,1108.4Z" fill="#7d5fa6"/>
<linearGradient id="c4" gradientUnits="userSpaceOnUse" x1="0" y1="801.0" x2="0" y2="1268"><stop offset="0" stop-color="#cbb6ef"/><stop offset="0.5" stop-color="#a68cd0"/><stop offset="1" stop-color="#7c58a8"/></linearGradient>
<path d="M1332.30,801.00 L1393.40,801.00 L1393.40,1055.00 C1392.56,1056.32 1389.82,1061.40 1388.39,1062.90 C1386.96,1064.40 1386.74,1063.68 1384.85,1064.00 C1382.95,1064.32 1380.11,1065.38 1377.03,1064.80 C1373.94,1064.22 1370.22,1062.05 1366.33,1060.50 C1362.44,1058.95 1357.36,1056.63 1353.69,1055.50 C1350.01,1054.37 1346.82,1053.37 1344.28,1053.70 C1341.73,1054.03 1340.00,1055.60 1338.41,1057.50 C1336.82,1059.40 1335.76,1063.83 1334.74,1065.10 C1333.73,1066.37 1332.71,1065.10 1332.30,1065.10 Z" fill="url(#c4)" stroke="none"/>
<path d="M1332.30,1065.10 L1332.30,801.00 L1393.40,801.00 L1393.40,1055.00" fill="none" stroke="#75569f" stroke-width="1.5"/>
<path d="M1332.2,1064.1 1332.3,1063.5 1332.5,1062.7 1332.9,1061.8 1333.3,1060.8 1333.8,1059.8 1334.3,1059.0 1334.7,1058.2 1335.2,1057.4 1335.5,1056.6 1335.8,1055.9 1336.1,1055.3 1336.4,1054.9 1336.8,1054.4 1337.1,1054.0 1337.4,1053.7 1337.8,1053.5 1338.3,1053.2 1338.9,1052.9 1339.6,1052.6 1340.4,1052.4 1341.3,1052.1 1342.2,1052.0 1343.1,1051.9 1344.2,1051.9 1345.4,1052.0 1346.7,1052.2 1348.1,1052.5 1349.6,1052.8 1351.2,1053.3 1352.9,1053.8 1354.8,1054.4 1356.8,1055.2 1359.0,1056.1 1361.2,1057.1 1363.4,1057.9 1365.5,1058.7 1367.5,1059.5 1369.5,1060.2 1371.4,1060.9 1373.2,1061.5 1375.0,1062.0 1376.5,1062.4 1377.9,1062.6 1379.2,1062.6 1380.2,1062.6 1381.2,1062.4 1381.9,1062.2 1382.6,1062.0 1383.5,1061.8 1384.3,1061.5 1385.2,1061.2 1386.0,1060.8 1386.7,1060.4 1387.4,1060.0 1388.1,1059.5 1388.7,1059.0 1389.2,1058.5 1389.6,1057.9 1390.0,1057.4 1390.4,1056.8 1390.7,1056.2 1391.0,1055.5 1391.2,1054.8 1391.3,1054.0 1391.5,1053.3 1391.5,1052.5 1391.6,1051.6 1391.6,1050.7 1391.6,1049.7 1391.7,1048.9 1391.8,1048.2 1391.9,1047.7 1390.3,1047.3 1390.2,1047.8 1390.0,1048.5 1389.7,1049.3 1389.3,1050.1 1388.9,1050.9 1388.5,1051.5 1388.2,1052.0 1387.8,1052.5 1387.4,1053.0 1387.1,1053.4 1386.7,1053.8 1386.4,1054.2 1386.1,1054.6 1385.8,1055.0 1385.6,1055.3 1385.3,1055.5 1385.1,1055.8 1384.7,1056.0 1384.3,1056.3 1383.8,1056.5 1383.3,1056.8 1382.7,1057.0 1382.1,1057.2 1381.4,1057.4 1380.7,1057.5 1380.1,1057.7 1379.6,1057.8 1379.1,1057.8 1378.5,1057.8 1377.5,1057.6 1376.2,1057.3 1374.7,1056.9 1372.9,1056.3 1371.1,1055.7 1369.1,1055.0 1367.2,1054.3 1365.2,1053.5 1363.1,1052.6 1360.9,1051.7 1358.6,1050.8 1356.5,1049.9 1354.4,1049.2 1352.6,1048.7 1350.8,1048.2 1349.1,1047.8 1347.5,1047.5 1345.9,1047.2 1344.4,1047.1 1342.9,1047.1 1341.5,1047.2 1340.2,1047.5 1339.1,1047.8 1338.0,1048.1 1337.1,1048.5 1336.1,1048.9 1335.2,1049.4 1334.4,1050.0 1333.7,1050.6 1333.1,1051.4 1332.5,1052.1 1331.9,1053.1 1331.4,1054.0 1331.1,1055.0 1330.9,1056.0 1330.8,1057.0 1330.7,1058.0 1330.7,1059.1 1330.7,1060.2 1330.8,1061.4 1330.8,1062.4 1330.7,1063.3 1330.6,1063.9Z" fill="#7d5fa6"/>
<path d="M1332.30,1268.20 L1332.30,1113.20 C1332.46,1113.20 1332.26,1114.65 1333.28,1113.20 C1334.30,1111.75 1336.25,1106.73 1338.41,1104.50 C1340.57,1102.27 1342.51,1100.13 1346.23,1099.80 C1349.95,1099.47 1355.09,1101.25 1360.71,1102.50 C1366.33,1103.75 1375.53,1106.80 1379.96,1107.30 C1384.39,1107.80 1385.05,1106.53 1387.29,1105.50 C1389.53,1104.47 1392.38,1101.83 1393.40,1101.10 L1393.40,1268.20 Z" fill="url(#c4)" stroke="none"/>
<path d="M1332.30,1113.20 L1332.30,1268.20 M1393.40,1101.10 L1393.40,1268.20" fill="none" stroke="#75569f" stroke-width="1.5"/>
<path d="M1332.2,1109.1 1332.3,1108.5 1332.5,1107.7 1332.9,1106.8 1333.3,1105.8 1333.8,1104.8 1334.3,1104.0 1334.7,1103.2 1335.2,1102.4 1335.5,1101.6 1335.8,1100.9 1336.1,1100.3 1336.4,1099.9 1336.8,1099.4 1337.1,1099.0 1337.4,1098.7 1337.8,1098.5 1338.3,1098.2 1338.9,1097.9 1339.6,1097.6 1340.4,1097.4 1341.3,1097.1 1342.2,1097.0 1343.1,1096.9 1344.2,1096.9 1345.4,1097.0 1346.7,1097.2 1348.1,1097.5 1349.6,1097.8 1351.2,1098.3 1352.9,1098.8 1354.8,1099.4 1356.8,1100.2 1359.0,1101.1 1361.2,1102.1 1363.4,1102.9 1365.5,1103.7 1367.5,1104.5 1369.5,1105.2 1371.4,1105.9 1373.2,1106.5 1375.0,1107.0 1376.5,1107.4 1377.9,1107.6 1379.2,1107.6 1380.2,1107.6 1381.2,1107.4 1381.9,1107.2 1382.6,1107.0 1383.5,1106.8 1384.3,1106.5 1385.2,1106.2 1386.0,1105.8 1386.7,1105.4 1387.4,1105.0 1388.1,1104.5 1388.7,1104.0 1389.2,1103.5 1389.6,1102.9 1390.0,1102.4 1390.4,1101.8 1390.7,1101.2 1391.0,1100.5 1391.2,1099.8 1391.3,1099.0 1391.5,1098.3 1391.5,1097.5 1391.6,1096.6 1391.6,1095.7 1391.6,1094.7 1391.7,1093.9 1391.8,1093.2 1391.9,1092.7 1390.3,1092.3 1390.2,1092.8 1390.0,1093.5 1389.7,1094.3 1389.3,1095.1 1388.9,1095.9 1388.5,1096.5 1388.2,1097.0 1387.8,1097.5 1387.4,1098.0 1387.1,1098.4 1386.7,1098.8 1386.4,1099.2 1386.1,1099.6 1385.8,1100.0 1385.6,1100.3 1385.3,1100.5 1385.1,1100.8 1384.7,1101.0 1384.3,1101.3 1383.8,1101.5 1383.3,1101.8 1382.7,1102.0 1382.1,1102.2 1381.4,1102.4 1380.7,1102.5 1380.1,1102.7 1379.6,1102.8 1379.1,1102.8 1378.5,1102.8 1377.5,1102.6 1376.2,1102.3 1374.7,1101.9 1372.9,1101.3 1371.1,1100.7 1369.1,1100.0 1367.2,1099.3 1365.2,1098.5 1363.1,1097.6 1360.9,1096.7 1358.6,1095.8 1356.5,1094.9 1354.4,1094.2 1352.6,1093.7 1350.8,1093.2 1349.1,1092.8 1347.5,1092.5 1345.9,1092.2 1344.4,1092.1 1342.9,1092.1 1341.5,1092.2 1340.2,1092.5 1339.1,1092.8 1338.0,1093.1 1337.1,1093.5 1336.1,1093.9 1335.2,1094.4 1334.4,1095.0 1333.7,1095.6 1333.1,1096.4 1332.5,1097.1 1331.9,1098.1 1331.4,1099.0 1331.1,1100.0 1330.9,1101.0 1330.8,1102.0 1330.7,1103.0 1330.7,1104.1 1330.7,1105.2 1330.8,1106.4 1330.8,1107.4 1330.7,1108.3 1330.6,1108.9Z" fill="#7d5fa6"/>
<g fill="#000" opacity="0.45" filter="url(#esh)" transform="translate(0.8,2.8)"><rect x="937.85" y="1239.30" width="3.6" height="22.70"/><rect x="930.85" y="1239.30" width="17.6" height="3.7"/><rect x="930.85" y="1258.30" width="17.6" height="3.7"/></g>
<g fill="#000"><rect x="937.85" y="1239.30" width="3.6" height="22.70"/><rect x="930.85" y="1239.30" width="17.6" height="3.7"/><rect x="930.85" y="1258.30" width="17.6" height="3.7"/></g>
<g fill="#000" opacity="0.45" filter="url(#esh)" transform="translate(0.8,2.8)"><rect x="1044.65" y="902.80" width="3.6" height="85.00"/><rect x="1037.65" y="902.80" width="17.6" height="3.7"/><rect x="1037.65" y="984.10" width="17.6" height="3.7"/></g>
<g fill="#000"><rect x="1044.65" y="902.80" width="3.6" height="85.00"/><rect x="1037.65" y="902.80" width="17.6" height="3.7"/><rect x="1037.65" y="984.10" width="17.6" height="3.7"/></g>
<g fill="#000" opacity="0.45" filter="url(#esh)" transform="translate(0.8,2.8)"><rect x="1150.35" y="798.30" width="3.6" height="12.80"/><rect x="1143.35" y="798.30" width="17.6" height="3.7"/><rect x="1143.35" y="807.40" width="17.6" height="3.7"/></g>
<g fill="#000"><rect x="1150.35" y="798.30" width="3.6" height="12.80"/><rect x="1143.35" y="798.30" width="17.6" height="3.7"/><rect x="1143.35" y="807.40" width="17.6" height="3.7"/></g>
<g fill="#000" opacity="0.45" filter="url(#esh)" transform="translate(0.8,2.8)"><rect x="1255.15" y="802.40" width="3.6" height="6.60"/><rect x="1248.15" y="802.40" width="17.6" height="3.7"/><rect x="1248.15" y="805.30" width="17.6" height="3.7"/></g>
<g fill="#000"><rect x="1255.15" y="802.40" width="3.6" height="6.60"/><rect x="1248.15" y="802.40" width="17.6" height="3.7"/><rect x="1248.15" y="805.30" width="17.6" height="3.7"/></g>
<g fill="#000" opacity="0.45" filter="url(#esh)" transform="translate(0.8,2.8)"><rect x="1360.70" y="798.30" width="3.6" height="4.80"/><rect x="1353.70" y="798.30" width="17.6" height="3.7"/><rect x="1353.70" y="799.40" width="17.6" height="3.7"/></g>
<g fill="#000"><rect x="1360.70" y="798.30" width="3.6" height="4.80"/><rect x="1353.70" y="798.30" width="17.6" height="3.7"/><rect x="1353.70" y="799.40" width="17.6" height="3.7"/></g>
<line x1="845.7" y1="751.7" x2="1459.5" y2="751.7" stroke="#000" stroke-width="1.6" />
<line x1="1459.5" y1="751.7" x2="1459.5" y2="1267.6" stroke="#000" stroke-width="1.6" />
<line x1="843.3" y1="1267.6" x2="1459.5" y2="1267.6" stroke="#000" stroke-width="1.7" />
<line x1="857" y1="751.7" x2="857" y2="1067" stroke="#000" stroke-width="1.8" />
<line x1="857" y1="1103.3" x2="857" y2="1267.6" stroke="#000" stroke-width="1.8" />
<path d="M838.6,1079.3 C841,1072.0 848,1070.5 854.5,1074.0 C860,1077.0 866,1081.5 870.5,1071.7" fill="none" stroke="#000" stroke-width="2.6"/>
<path d="M838.6,1089.8 C841,1082.5 848,1081 854.5,1084.5 C860,1087.5 866,1092 870.5,1082.2" fill="none" stroke="#000" stroke-width="2.6"/>
<text x="839.5" y="810.3" font-size="43" text-anchor="end" fill="#000" >100</text>
<text x="836.5" y="900.8" font-size="43" text-anchor="end" fill="#000" >90</text>
<text x="838.5" y="997.2" font-size="43" text-anchor="end" fill="#000" >80</text>
<text x="838.5" y="1184.2" font-size="43" text-anchor="end" fill="#000" >20</text>
<text x="838.3" y="1271.0" font-size="43" text-anchor="end" fill="#000" >0</text>
<text transform="translate(769,1015.5) rotate(-90)" font-size="41" text-anchor="middle" textLength="413.5" lengthAdjust="spacingAndGlyphs">Virus reduction rate (%)</text>
<text x="940.8" y="1300.6" font-size="43" text-anchor="middle" fill="#000" >Control</text>
<text x="1048" y="1300.6" font-size="43" text-anchor="middle" fill="#000" >1</text>
<text x="1154" y="1300.6" font-size="43" text-anchor="middle" fill="#000" >5</text>
<text x="1256" y="1300.6" font-size="43" text-anchor="middle" fill="#000" >10</text>
<text x="1362" y="1300.6" font-size="43" text-anchor="middle" fill="#000" >30</text>
<text x="904" y="1345" font-size="42" textLength="498" lengthAdjust="spacingAndGlyphs">Exposure time to Si<tspan font-size="31.9" dy="10.0">3</tspan><tspan dy="-10.0">N</tspan><tspan font-size="31.9" dy="10.0">4</tspan><tspan dy="-10.0"> (min)</tspan></text>
<rect x="730.2" y="1299" width="92.3" height="48.5" fill="#fff" stroke="#000" stroke-width="1.6"/>
<text x="741" y="1333.9" font-size="44"><tspan font-style="italic">n</tspan>=3</text>
<g fill="#f00000"><use href="#ast" x="10.20" y="1358.60"/><use href="#ast" x="34.20" y="1358.60"/><use href="#ast" x="58.20" y="1358.60"/></g>
<text y="1367.2" font-size="32" fill="#f00000"><tspan x="72.5" font-style="italic">p</tspan><tspan x="88.5">&lt;</tspan><tspan x="107.5" letter-spacing="-2.5">10</tspan><tspan x="139.5" font-size="21" dy="-9.5">-3</tspan></text>
</svg>
</body></html>
